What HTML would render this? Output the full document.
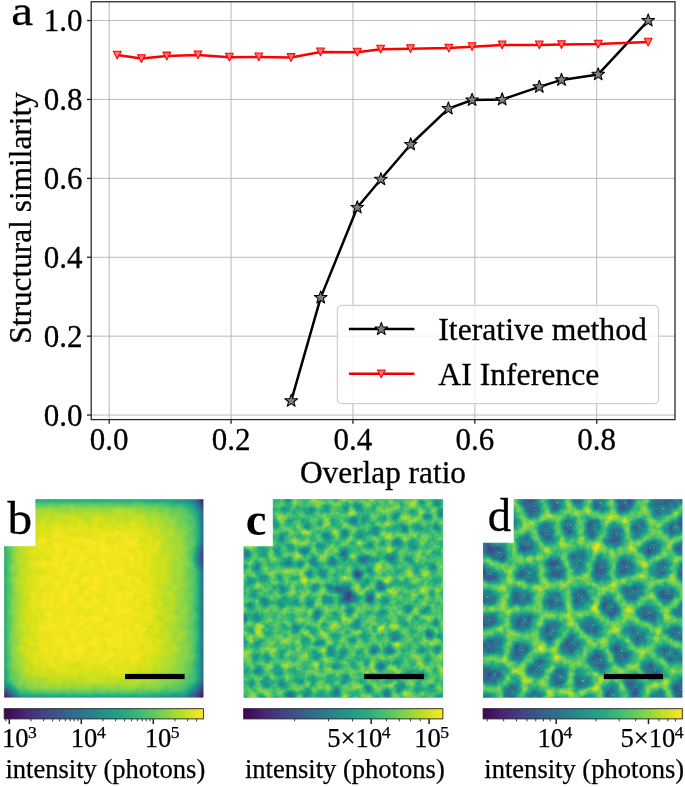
<!DOCTYPE html>
<html lang="en"><head><meta charset="utf-8"><title>Figure</title>
<style>
html,body{margin:0;padding:0;background:#fff;}
body{width:685px;height:787px;overflow:hidden;}
svg{display:block;font-family:"Liberation Serif","DejaVu Serif",serif;}
.t{font-size:31px;fill:#000;stroke:#000;stroke-width:0.3px;}
.lab{font-size:46.5px;fill:#000;stroke:#000;stroke-width:0.3px;}
.cb{font-size:26.6px;fill:#000;stroke:#000;stroke-width:0.25px;}
.sup{font-size:17.6px;}
.il{font-size:26.55px;fill:#000;stroke:#000;stroke-width:0.25px;}
</style></head><body>
<svg width="685" height="787" viewBox="0 0 685 787">
<defs>
<linearGradient id="vir" x1="0" x2="1" y1="0" y2="0">
<stop offset="0" stop-color="#440154"/><stop offset="0.1" stop-color="#482475"/><stop offset="0.2" stop-color="#414487"/><stop offset="0.3" stop-color="#355f8d"/><stop offset="0.4" stop-color="#2a788e"/><stop offset="0.5" stop-color="#21918c"/><stop offset="0.6" stop-color="#22a884"/><stop offset="0.7" stop-color="#44bf70"/><stop offset="0.8" stop-color="#7ad151"/><stop offset="0.9" stop-color="#bddf26"/><stop offset="1" stop-color="#fde725"/>
</linearGradient>
</defs>
<rect width="685" height="787" fill="#fff"/>

<g stroke="#b9b9b9" stroke-width="1.0" fill="none">
<line x1="109.20" y1="1.75" x2="109.20" y2="419.6"/>
<line x1="231.08" y1="1.75" x2="231.08" y2="419.6"/>
<line x1="352.96" y1="1.75" x2="352.96" y2="419.6"/>
<line x1="474.84" y1="1.75" x2="474.84" y2="419.6"/>
<line x1="596.72" y1="1.75" x2="596.72" y2="419.6"/>
<line x1="91.2" y1="415.05" x2="675.0" y2="415.05"/>
<line x1="91.2" y1="336.15" x2="675.0" y2="336.15"/>
<line x1="91.2" y1="257.25" x2="675.0" y2="257.25"/>
<line x1="91.2" y1="178.35" x2="675.0" y2="178.35"/>
<line x1="91.2" y1="99.45" x2="675.0" y2="99.45"/>
<line x1="91.2" y1="20.55" x2="675.0" y2="20.55"/>
</g>
<g stroke="#222" stroke-width="1.3" fill="none">
<line x1="109.20" y1="419.6" x2="109.20" y2="423.8"/>
<line x1="231.08" y1="419.6" x2="231.08" y2="423.8"/>
<line x1="352.96" y1="419.6" x2="352.96" y2="423.8"/>
<line x1="474.84" y1="419.6" x2="474.84" y2="423.8"/>
<line x1="596.72" y1="419.6" x2="596.72" y2="423.8"/>
<line x1="87.0" y1="415.05" x2="91.2" y2="415.05"/>
<line x1="87.0" y1="336.15" x2="91.2" y2="336.15"/>
<line x1="87.0" y1="257.25" x2="91.2" y2="257.25"/>
<line x1="87.0" y1="178.35" x2="91.2" y2="178.35"/>
<line x1="87.0" y1="99.45" x2="91.2" y2="99.45"/>
<line x1="87.0" y1="20.55" x2="91.2" y2="20.55"/>
</g>
<polyline fill="none" stroke="#000" stroke-width="2.5" stroke-linejoin="round" points="291.2,400.9 320.7,297.6 357.3,207.5 380.9,179.3 410.7,144.5 448.4,108.6 472.1,100 502.2,99.5 539.3,86.9 561.5,79.9 598.2,74.4 648.2,20.6"/>
<polyline fill="none" stroke="#f00" stroke-width="2.5" stroke-linejoin="round" points="117.2,55.10 141.4,58.60 166.8,56.00 198,54.90 229.3,57.20 258.8,56.90 291,57.50 320.5,51.90 357.3,52.20 380.6,49.20 410.5,48.70 448.8,48.10 472.1,46.70 502.2,44.90 539.3,44.90 561.5,44.60 598.2,44.10 648.2,42.10"/>
<g fill="#808080" stroke="#000" stroke-width="1.05" stroke-linejoin="round">
<polygon points="291.20,394.20 292.82,398.68 297.57,398.83 293.82,401.75 295.14,406.32 291.20,403.65 287.26,406.32 288.58,401.75 284.83,398.83 289.58,398.68"/>
<polygon points="320.70,290.90 322.32,295.38 327.07,295.53 323.32,298.45 324.64,303.02 320.70,300.35 316.76,303.02 318.08,298.45 314.33,295.53 319.08,295.38"/>
<polygon points="357.30,200.80 358.92,205.28 363.67,205.43 359.92,208.35 361.24,212.92 357.30,210.25 353.36,212.92 354.68,208.35 350.93,205.43 355.68,205.28"/>
<polygon points="380.90,172.60 382.52,177.08 387.27,177.23 383.52,180.15 384.84,184.72 380.90,182.05 376.96,184.72 378.28,180.15 374.53,177.23 379.28,177.08"/>
<polygon points="410.70,137.80 412.32,142.28 417.07,142.43 413.32,145.35 414.64,149.92 410.70,147.25 406.76,149.92 408.08,145.35 404.33,142.43 409.08,142.28"/>
<polygon points="448.40,101.90 450.02,106.38 454.77,106.53 451.02,109.45 452.34,114.02 448.40,111.35 444.46,114.02 445.78,109.45 442.03,106.53 446.78,106.38"/>
<polygon points="472.10,93.30 473.72,97.78 478.47,97.93 474.72,100.85 476.04,105.42 472.10,102.75 468.16,105.42 469.48,100.85 465.73,97.93 470.48,97.78"/>
<polygon points="502.20,92.80 503.82,97.28 508.57,97.43 504.82,100.35 506.14,104.92 502.20,102.25 498.26,104.92 499.58,100.35 495.83,97.43 500.58,97.28"/>
<polygon points="539.30,80.20 540.92,84.68 545.67,84.83 541.92,87.75 543.24,92.32 539.30,89.65 535.36,92.32 536.68,87.75 532.93,84.83 537.68,84.68"/>
<polygon points="561.50,73.20 563.12,77.68 567.87,77.83 564.12,80.75 565.44,85.32 561.50,82.65 557.56,85.32 558.88,80.75 555.13,77.83 559.88,77.68"/>
<polygon points="598.20,67.70 599.82,72.18 604.57,72.33 600.82,75.25 602.14,79.82 598.20,77.15 594.26,79.82 595.58,75.25 591.83,72.33 596.58,72.18"/>
<polygon points="648.20,13.90 649.82,18.38 654.57,18.53 650.82,21.45 652.14,26.02 648.20,23.35 644.26,26.02 645.58,21.45 641.83,18.53 646.58,18.38"/>
</g>
<g fill="#ff7272" stroke="#f00" stroke-width="1.05" stroke-linejoin="round">
<polygon points="113.30,51.20 121.10,51.20 117.20,59.00"/>
<polygon points="137.50,54.70 145.30,54.70 141.40,62.50"/>
<polygon points="162.90,52.10 170.70,52.10 166.80,59.90"/>
<polygon points="194.10,51.00 201.90,51.00 198.00,58.80"/>
<polygon points="225.40,53.30 233.20,53.30 229.30,61.10"/>
<polygon points="254.90,53.00 262.70,53.00 258.80,60.80"/>
<polygon points="287.10,53.60 294.90,53.60 291.00,61.40"/>
<polygon points="316.60,48.00 324.40,48.00 320.50,55.80"/>
<polygon points="353.40,48.30 361.20,48.30 357.30,56.10"/>
<polygon points="376.70,45.30 384.50,45.30 380.60,53.10"/>
<polygon points="406.60,44.80 414.40,44.80 410.50,52.60"/>
<polygon points="444.90,44.20 452.70,44.20 448.80,52.00"/>
<polygon points="468.20,42.80 476.00,42.80 472.10,50.60"/>
<polygon points="498.30,41.00 506.10,41.00 502.20,48.80"/>
<polygon points="535.40,41.00 543.20,41.00 539.30,48.80"/>
<polygon points="557.60,40.70 565.40,40.70 561.50,48.50"/>
<polygon points="594.30,40.20 602.10,40.20 598.20,48.00"/>
<polygon points="644.30,38.20 652.10,38.20 648.20,46.00"/>
</g>
<rect x="91.2" y="1.75" width="583.8" height="417.85" fill="none" stroke="#2a2a2a" stroke-width="1.3"/>
<rect x="337.4" y="305.3" width="321.2" height="98.3" rx="4.5" ry="4.5" fill="#fff" fill-opacity="0.8" stroke="#cfcfcf" stroke-width="1.2"/>
<line x1="348.9" y1="329.1" x2="414.4" y2="329.1" stroke="#000" stroke-width="2.5"/>
<polygon points="381.30,322.40 382.92,326.88 387.67,327.03 383.92,329.95 385.24,334.52 381.30,331.85 377.36,334.52 378.68,329.95 374.93,327.03 379.68,326.88" fill="#808080" stroke="#000" stroke-width="1.05" stroke-linejoin="round"/>
<line x1="348.9" y1="373.8" x2="414.4" y2="373.8" stroke="#ee0000" stroke-width="2.5"/>
<polygon points="377.40,369.90 385.20,369.90 381.30,377.70" fill="#ff7272" stroke="#f00" stroke-width="1.05" stroke-linejoin="round"/>
<text class="t" style="font-size:31.7px" x="438.3" y="340">Iterative method</text>
<text class="t" style="font-size:31.7px" x="438.3" y="384.5">AI Inference</text>
<text class="t" text-anchor="middle" x="109.20" y="450.4">0.0</text>
<text class="t" text-anchor="middle" x="231.08" y="450.4">0.2</text>
<text class="t" text-anchor="middle" x="352.96" y="450.4">0.4</text>
<text class="t" text-anchor="middle" x="474.84" y="450.4">0.6</text>
<text class="t" text-anchor="middle" x="596.72" y="450.4">0.8</text>
<text class="t" text-anchor="end" x="82.5" y="425.95">0.0</text>
<text class="t" text-anchor="end" x="82.5" y="347.05">0.2</text>
<text class="t" text-anchor="end" x="82.5" y="268.15">0.4</text>
<text class="t" text-anchor="end" x="82.5" y="189.25">0.6</text>
<text class="t" text-anchor="end" x="82.5" y="110.35">0.8</text>
<text class="t" text-anchor="end" x="82.5" y="31.45">1.0</text>
<text class="t" style="font-size:31.3px" text-anchor="middle" x="383" y="483.2">Overlap ratio</text>
<text class="t" style="font-size:31.35px" text-anchor="middle" transform="translate(30.7,217.9) rotate(-90)">Structural similarity</text>
<text class="lab" transform="translate(11.2,24.6) scale(1.06,0.915)">a</text>
<g id="pb">
<rect x="4.2" y="499.3" width="199.20" height="198.30" fill="#dfe318"/>
<clipPath id="clb"><rect x="4.2" y="499.3" width="199.2" height="198.30"/></clipPath>
<filter id="blb" filterUnits="userSpaceOnUse" x="-7.8" y="487.3" width="223.2" height="222.3" color-interpolation-filters="sRGB"><feGaussianBlur stdDeviation="1.5"/></filter>
<filter id="cmb" filterUnits="userSpaceOnUse" x="-7.8" y="487.3" width="223.2" height="222.3" color-interpolation-filters="sRGB">
<feTurbulence type="fractalNoise" baseFrequency="0.13" numOctaves="2" seed="5" result="n"/>
<feColorMatrix in="n" type="matrix" values="1 0 0 0 0 1 0 0 0 0 1 0 0 0 0 0 0 0 0 1" result="ng"/>
<feComposite in="SourceGraphic" in2="ng" operator="arithmetic" k1="0" k2="1" k3="0.085" k4="-0.0425" result="s"/>
<feComponentTransfer in="s"><feFuncR type="table" tableValues="0.267 0.277 0.282 0.283 0.279 0.271 0.259 0.245 0.230 0.214 0.199 0.186 0.173 0.161 0.149 0.138 0.128 0.121 0.121 0.132 0.158 0.197 0.246 0.304 0.369 0.440 0.516 0.596 0.678 0.762 0.846 0.926 0.993"/><feFuncG type="table" tableValues="0.005 0.050 0.095 0.136 0.175 0.214 0.252 0.288 0.322 0.356 0.388 0.419 0.449 0.479 0.508 0.537 0.567 0.596 0.626 0.655 0.684 0.712 0.739 0.765 0.789 0.811 0.831 0.849 0.864 0.876 0.887 0.897 0.906"/><feFuncB type="table" tableValues="0.329 0.376 0.417 0.453 0.483 0.507 0.525 0.537 0.546 0.551 0.555 0.557 0.558 0.558 0.557 0.555 0.551 0.544 0.533 0.520 0.502 0.479 0.452 0.420 0.383 0.341 0.294 0.243 0.190 0.137 0.100 0.104 0.144"/></feComponentTransfer>
</filter>
<linearGradient id="bL" gradientUnits="userSpaceOnUse" x1="4.2" y1="0" x2="59.2" y2="0"><stop offset="0.0" stop-color="#000" stop-opacity="0.4"/><stop offset="0.055" stop-color="#000" stop-opacity="0.29"/><stop offset="0.145" stop-color="#000" stop-opacity="0.18"/><stop offset="0.273" stop-color="#000" stop-opacity="0.1"/><stop offset="0.455" stop-color="#000" stop-opacity="0.045"/><stop offset="0.727" stop-color="#000" stop-opacity="0.01"/><stop offset="1.0" stop-color="#000" stop-opacity="0"/></linearGradient>
<linearGradient id="bR" gradientUnits="userSpaceOnUse" x1="203.39999999999998" y1="0" x2="133.39999999999998" y2="0"><stop offset="0.0" stop-color="#000" stop-opacity="0.7"/><stop offset="0.029" stop-color="#000" stop-opacity="0.55"/><stop offset="0.071" stop-color="#000" stop-opacity="0.36"/><stop offset="0.143" stop-color="#000" stop-opacity="0.24"/><stop offset="0.286" stop-color="#000" stop-opacity="0.15"/><stop offset="0.5" stop-color="#000" stop-opacity="0.085"/><stop offset="0.714" stop-color="#000" stop-opacity="0.04"/><stop offset="1.0" stop-color="#000" stop-opacity="0"/></linearGradient>
<linearGradient id="bT" gradientUnits="userSpaceOnUse" x1="0" y1="499.3" x2="0" y2="544.3"><stop offset="0.0" stop-color="#000" stop-opacity="0.43"/><stop offset="0.067" stop-color="#000" stop-opacity="0.29"/><stop offset="0.178" stop-color="#000" stop-opacity="0.16"/><stop offset="0.333" stop-color="#000" stop-opacity="0.085"/><stop offset="0.667" stop-color="#000" stop-opacity="0.025"/><stop offset="1.0" stop-color="#000" stop-opacity="0"/></linearGradient>
<linearGradient id="bB" gradientUnits="userSpaceOnUse" x1="0" y1="697.6" x2="0" y2="652.6"><stop offset="0.0" stop-color="#000" stop-opacity="0.48"/><stop offset="0.067" stop-color="#000" stop-opacity="0.31"/><stop offset="0.178" stop-color="#000" stop-opacity="0.17"/><stop offset="0.333" stop-color="#000" stop-opacity="0.09"/><stop offset="0.667" stop-color="#000" stop-opacity="0.03"/><stop offset="1.0" stop-color="#000" stop-opacity="0"/></linearGradient>
<radialGradient id="bc1" gradientUnits="userSpaceOnUse" cx="4.2" cy="697.6" r="16"><stop offset="0" stop-color="#000" stop-opacity="0.9"/><stop offset="0.4" stop-color="#000" stop-opacity="0.5"/><stop offset="1" stop-color="#000" stop-opacity="0"/></radialGradient>
<radialGradient id="bc2" gradientUnits="userSpaceOnUse" cx="203.39999999999998" cy="697.6" r="18"><stop offset="0" stop-color="#000" stop-opacity="0.9"/><stop offset="0.4" stop-color="#000" stop-opacity="0.5"/><stop offset="1" stop-color="#000" stop-opacity="0"/></radialGradient>
<radialGradient id="bc3" gradientUnits="userSpaceOnUse" cx="203.39999999999998" cy="499.3" r="14"><stop offset="0" stop-color="#000" stop-opacity="0.7"/><stop offset="0.4" stop-color="#000" stop-opacity="0.35"/><stop offset="1" stop-color="#000" stop-opacity="0"/></radialGradient>
<radialGradient id="bc4" gradientUnits="userSpaceOnUse" cx="4.2" cy="499.3" r="20"><stop offset="0" stop-color="#000" stop-opacity="0.3"/><stop offset="0.5" stop-color="#000" stop-opacity="0.1"/><stop offset="1" stop-color="#000" stop-opacity="0"/></radialGradient>
<radialGradient id="bc5" gradientUnits="userSpaceOnUse" cx="208.39999999999998" cy="557" r="19"><stop offset="0" stop-color="#000" stop-opacity="0.6"/><stop offset="0.5" stop-color="#000" stop-opacity="0.4"/><stop offset="0.75" stop-color="#000" stop-opacity="0.12"/><stop offset="1" stop-color="#000" stop-opacity="0"/></radialGradient>
<g clip-path="url(#clb)"><g filter="url(#cmb)"><g filter="url(#blb)">
<rect x="-9.8" y="485.3" width="227.2" height="226.3" fill="#fafafa"/>
<rect x="-9.8" y="485.3" width="227.2" height="226.3" fill="url(#bL)"/>
<rect x="-9.8" y="485.3" width="227.2" height="226.3" fill="url(#bR)"/>
<rect x="-9.8" y="485.3" width="227.2" height="226.3" fill="url(#bT)"/>
<rect x="-9.8" y="485.3" width="227.2" height="226.3" fill="url(#bB)"/>
<rect x="-9.8" y="485.3" width="227.2" height="226.3" fill="url(#bc1)"/>
<rect x="-9.8" y="485.3" width="227.2" height="226.3" fill="url(#bc2)"/>
<rect x="-9.8" y="485.3" width="227.2" height="226.3" fill="url(#bc3)"/>
<rect x="-9.8" y="485.3" width="227.2" height="226.3" fill="url(#bc4)"/>
<rect x="-9.8" y="485.3" width="227.2" height="226.3" fill="url(#bc5)"/>
</g></g></g>
<rect x="3.2" y="496.3" width="32.20" height="49.90" fill="#fff"/>
<rect x="125" y="673.9" width="59.60" height="5.2" fill="#000"/>
<text class="lab" transform="translate(7.60,533.6) scale(1.06,1)">b</text>
<rect x="4.2" y="708.7" width="199.20" height="10.2" fill="url(#vir)" stroke="#222" stroke-width="0.9"/>
<text class="il" x="5.40" y="777.9">intensity (photons)</text>
</g>
<g id="pc">
<rect x="243.7" y="499.3" width="199.20" height="198.30" fill="#4ec36b"/>
<clipPath id="clc"><rect x="243.7" y="499.3" width="199.2" height="198.30"/></clipPath>
<filter id="blc" filterUnits="userSpaceOnUse" x="231.7" y="487.3" width="223.2" height="222.3" color-interpolation-filters="sRGB"><feGaussianBlur stdDeviation="2.4"/></filter>
<filter id="cmc" filterUnits="userSpaceOnUse" x="231.7" y="487.3" width="223.2" height="222.3" color-interpolation-filters="sRGB">
<feTurbulence type="fractalNoise" baseFrequency="0.13" numOctaves="4" seed="11" result="n"/>
<feColorMatrix in="n" type="matrix" values="1 0 0 0 0 1 0 0 0 0 1 0 0 0 0 0 0 0 0 1" result="ng"/>
<feComposite in="SourceGraphic" in2="ng" operator="arithmetic" k1="0" k2="1" k3="0.38" k4="-0.1900" result="s"/>
<feComponentTransfer in="s"><feFuncR type="table" tableValues="0.267 0.277 0.282 0.283 0.279 0.271 0.259 0.245 0.230 0.214 0.199 0.186 0.173 0.161 0.149 0.138 0.128 0.121 0.121 0.132 0.158 0.197 0.246 0.304 0.369 0.440 0.516 0.596 0.678 0.762 0.846 0.926 0.993"/><feFuncG type="table" tableValues="0.005 0.050 0.095 0.136 0.175 0.214 0.252 0.288 0.322 0.356 0.388 0.419 0.449 0.479 0.508 0.537 0.567 0.596 0.626 0.655 0.684 0.712 0.739 0.765 0.789 0.811 0.831 0.849 0.864 0.876 0.887 0.897 0.906"/><feFuncB type="table" tableValues="0.329 0.376 0.417 0.453 0.483 0.507 0.525 0.537 0.546 0.551 0.555 0.557 0.558 0.558 0.557 0.555 0.551 0.544 0.533 0.520 0.502 0.479 0.452 0.420 0.383 0.341 0.294 0.243 0.190 0.137 0.100 0.104 0.144"/></feComponentTransfer>
</filter>
<g clip-path="url(#clc)"><g filter="url(#cmc)">
<g filter="url(#blc)"><rect x="229.7" y="485.3" width="227.2" height="226.3" fill="#c2c2c2"/>
<polygon fill="#7c7c7c" points="239.1,489.0 245.5,473.8 235.4,303.1 178.0,307.7 116.4,323.1 83.5,336.9 70.8,369.0 61.2,410.4 235.4,489.8"/>
<polygon fill="#848484" points="243.1,490.7 249.5,475.5 254.0,489.4 249.8,494.4"/>
<polygon fill="#a0a0a0" points="271.1,485.8 252.4,302.0 250.9,301.9 246.8,302.4 256.9,473.1 261.4,487.1 266.9,488.5"/>
<polygon fill="#7d7d7d" points="282.1,486.8 284.9,485.8 292.8,463.2 294.5,442.6 293.8,302.0 258.5,301.3 277.2,485.1"/>
<polygon fill="#808080" points="295.9,491.6 302.2,487.8 298.9,465.3 291.0,487.9"/>
<polygon fill="#868686" points="313.4,489.8 309.2,486.7 305.8,464.3 307.5,443.7 318.3,485.8"/>
<polygon fill="#676767" points="328.6,485.6 329.5,485.1 337.1,422.7 341.0,301.0 336.2,300.5 311.4,301.9 312.1,442.5 322.8,484.6"/>
<polygon fill="#808080" points="345.5,483.0 342.9,423.4 335.3,485.8 341.6,488.2"/>
<polygon fill="#898989" points="357.7,485.7 367.5,479.3 366.4,357.6 363.8,302.1 353.9,301.4 350.0,423.1 352.5,482.7"/>
<polygon fill="#969696" points="389.3,485.8 395.2,483.8 379.4,357.5 380.4,479.2 381.3,481.8"/>
<polygon fill="#606060" points="401.4,483.0 385.6,356.7 383.0,301.2 429.8,300.3 448.0,303.1 417.9,470.8 413.6,479.2 404.9,485.9"/>
<polygon fill="#707070" points="233.4,505.1 232.2,496.9 58.0,417.5 52.8,437.3 47.8,490.5 227.2,508.7"/>
<polygon fill="#606060" points="242.9,505.6 238.1,504.4 236.9,496.2 240.5,495.4 247.2,499.1 247.2,502.5"/>
<polygon fill="#979797" points="259.8,505.5 266.4,502.1 265.1,495.5 259.6,494.1 255.4,499.1 255.4,502.5"/>
<polygon fill="#8e8e8e" points="279.8,493.4 279.2,499.7 274.8,502.7 272.1,501.0 270.8,494.4 275.0,491.7"/>
<polygon fill="#5c5c5c" points="284.5,493.8 287.3,492.9 292.3,496.5 292.4,499.3 289.1,503.0 283.8,500.1"/>
<polygon fill="#a4a4a4" points="298.9,499.0 304.3,502.5 310.0,499.7 309.3,495.5 305.1,492.4 298.8,496.2"/>
<polygon fill="#a3a3a3" points="326.0,498.2 327.6,491.1 321.9,490.1 317.0,494.1 317.8,498.4 319.5,499.7"/>
<polygon fill="#8b8b8b" points="335.3,503.0 330.6,499.3 332.3,492.2 333.1,491.7 339.4,494.1 340.6,497.7"/>
<polygon fill="#888888" points="351.4,497.0 355.9,495.3 355.4,489.6 350.3,486.6 346.4,491.7 347.6,495.4"/>
<polygon fill="#656565" points="369.2,494.2 365.4,496.7 360.4,495.0 360.0,489.2 369.8,482.8 370.7,485.4"/>
<polygon fill="#5a5a5a" points="381.5,498.4 387.1,496.8 386.7,490.8 378.8,486.8 377.3,495.6"/>
<polygon fill="#828282" points="391.3,496.5 394.6,498.5 400.4,492.8 400.3,491.4 396.8,488.5 390.9,490.6"/>
<polygon fill="#5e5e5e" points="408.7,492.1 408.5,490.7 417.3,483.9 418.6,494.1 413.5,497.1"/>
<polygon fill="#686868" points="427.9,495.0 431.4,492.6 426.1,474.9 421.8,483.4 423.1,493.5"/>
<polygon fill="#6c6c6c" points="442.1,492.1 445.8,488.9 474.6,306.8 461.8,305.6 431.6,473.2 437.0,490.9"/>
<polygon fill="#5c5c5c" points="465.4,496.9 641.1,502.6 642.0,493.4 637.5,432.1 622.6,370.9 608.9,337.6 574.8,324.0 513.2,309.9 482.9,308.1 454.1,490.2"/>
<polygon fill="#7d7d7d" points="241.7,517.6 235.9,520.2 230.4,514.1 236.6,510.5 241.4,511.7"/>
<polygon fill="#7b7b7b" points="252.0,520.9 247.4,517.3 247.1,511.4 251.4,508.3 255.7,511.3 256.9,516.8"/>
<polygon fill="#9a9a9a" points="263.2,515.5 262.1,510.0 268.7,506.6 271.4,508.3 272.9,514.1 266.9,516.7"/>
<polygon fill="#818181" points="279.1,512.5 277.6,506.6 281.9,503.6 287.2,506.5 287.1,510.4 282.0,513.9"/>
<polygon fill="#8a8a8a" points="296.4,502.9 301.8,506.4 300.0,513.5 293.0,510.5 293.1,506.6"/>
<polygon fill="#7f7f7f" points="312.2,515.5 315.4,513.2 314.2,506.2 312.5,504.9 306.8,507.6 305.0,514.7 305.1,514.9"/>
<polygon fill="#8c8c8c" points="332.0,509.8 332.0,507.2 327.3,503.5 320.8,505.1 322.0,512.0 326.6,513.9"/>
<polygon fill="#7c7c7c" points="345.6,513.8 339.5,509.7 339.5,507.1 344.8,501.8 348.6,503.5 349.3,511.3"/>
<polygon fill="#6f6f6f" points="354.4,510.9 353.7,503.0 358.2,501.3 363.1,503.1 362.8,508.7 358.1,511.5"/>
<polygon fill="#a6a6a6" points="378.8,509.2 377.8,503.8 373.6,500.9 369.8,503.5 369.5,509.1 374.1,512.9"/>
<polygon fill="#a5a5a5" points="392.2,506.7 391.7,503.2 388.4,501.3 382.7,502.9 383.7,508.3 388.2,509.9"/>
<polygon fill="#9a9a9a" points="404.2,508.5 408.8,503.9 408.9,501.6 404.0,496.5 398.1,502.2 398.7,505.6"/>
<polygon fill="#8f8f8f" points="422.0,508.2 425.9,506.0 426.2,500.3 421.4,498.8 416.3,501.8 416.2,504.1"/>
<polygon fill="#717171" points="441.3,505.2 440.4,499.4 435.3,498.3 431.8,500.7 431.5,506.3 434.8,508.4"/>
<polygon fill="#6b6b6b" points="448.3,504.1 447.4,498.3 451.2,495.1 462.5,501.8 451.5,507.2"/>
<polygon fill="#6f6f6f" points="231.9,524.0 226.3,517.9 46.8,499.6 45.8,507.8 46.5,527.7 213.8,536.8 222.8,535.3 231.2,529.2"/>
<polygon fill="#5f5f5f" points="248.3,525.7 243.7,522.2 238.0,524.7 237.3,529.9 242.9,531.4 248.3,526.3"/>
<polygon fill="#949494" points="256.3,526.0 261.1,521.9 264.9,523.1 266.0,529.3 261.1,533.2 256.3,526.5"/>
<polygon fill="#787878" points="269.4,522.3 275.4,519.7 278.3,521.2 279.8,527.6 275.5,530.0 270.5,528.5"/>
<polygon fill="#9a9a9a" points="290.8,527.9 287.2,525.8 285.7,519.4 290.8,515.9 297.8,518.8 297.9,518.9 296.2,525.3"/>
<polygon fill="#777777" points="312.2,528.5 311.6,521.4 304.6,520.7 302.9,527.1 306.9,529.9"/>
<polygon fill="#a3a3a3" points="325.3,526.3 319.4,529.8 316.6,528.1 316.1,521.0 319.3,518.7 323.9,520.5"/>
<polygon fill="#9a9a9a" points="341.8,522.2 335.4,526.8 331.8,524.8 330.5,519.0 335.9,514.9 342.0,519.1"/>
<polygon fill="#595959" points="349.4,522.8 354.1,527.4 359.5,525.2 357.0,517.8 353.3,517.1 349.6,519.7"/>
<polygon fill="#696969" points="361.0,516.4 365.7,513.6 370.3,517.5 370.5,520.0 365.3,524.3 363.5,523.9"/>
<polygon fill="#9f9f9f" points="377.6,519.4 377.4,516.9 382.0,513.2 386.5,514.7 386.9,520.0 382.6,523.0"/>
<polygon fill="#7d7d7d" points="401.3,514.1 395.8,511.2 391.8,514.4 392.2,519.7 396.5,521.3 401.8,517.8"/>
<polygon fill="#a4a4a4" points="408.7,513.0 413.3,508.3 419.1,512.4 418.5,517.3 412.4,519.1 409.3,516.7"/>
<polygon fill="#787878" points="432.0,513.0 428.7,511.0 424.8,513.1 424.1,518.1 427.7,521.1 432.7,518.3"/>
<polygon fill="#5f5f5f" points="443.3,509.3 436.8,512.4 437.5,517.7 442.9,519.7 446.3,516.2 446.4,512.3"/>
<polygon fill="#898989" points="454.1,512.5 465.1,507.1 640.8,512.8 640.0,526.7 466.3,522.4 454.0,516.3"/>
<polygon fill="#959595" points="241.4,537.0 243.9,543.2 238.3,546.0 227.4,541.6 235.8,535.5"/>
<polygon fill="#6e6e6e" points="251.7,529.8 246.2,535.0 248.7,541.2 252.4,542.3 256.3,539.4 256.5,536.5"/>
<polygon fill="#606060" points="264.2,537.1 263.9,540.0 269.2,542.4 272.8,540.5 274.0,534.7 269.1,533.2"/>
<polygon fill="#737373" points="286.9,538.7 282.1,543.9 277.3,541.5 278.6,535.7 282.9,533.3 286.6,535.4"/>
<polygon fill="#a3a3a3" points="303.5,534.9 299.4,532.2 294.1,534.7 294.4,538.0 298.7,542.9 303.8,541.0"/>
<polygon fill="#939393" points="316.3,535.0 313.5,533.3 308.2,534.7 308.5,540.8 312.3,542.9 316.5,538.2"/>
<polygon fill="#626262" points="331.8,533.3 328.2,531.2 322.4,534.7 322.5,537.9 328.3,541.5 333.0,538.4"/>
<polygon fill="#6c6c6c" points="345.2,527.0 338.9,531.6 340.1,536.8 345.0,539.5 349.0,536.6 349.9,531.6"/>
<polygon fill="#616161" points="356.3,532.8 355.4,537.7 360.6,539.9 365.6,536.0 363.5,531.1 361.7,530.6"/>
<polygon fill="#5e5e5e" points="374.1,524.3 379.2,527.9 379.3,532.9 374.8,535.4 371.0,533.6 368.9,528.7"/>
<polygon fill="#969696" points="386.0,527.8 390.2,524.9 394.6,526.5 395.3,533.0 390.2,535.1 386.0,532.8"/>
<polygon fill="#676767" points="404.9,522.5 408.1,524.9 408.3,532.9 405.1,534.5 400.3,532.4 399.6,526.0"/>
<polygon fill="#848484" points="414.3,532.6 414.0,524.7 420.1,522.9 423.7,525.9 423.7,531.6 420.6,534.5"/>
<polygon fill="#7b7b7b" points="440.9,525.1 441.2,531.3 437.9,532.9 430.5,531.5 430.5,525.9 435.4,523.1"/>
<polygon fill="#686868" points="451.6,521.2 463.9,527.3 451.2,532.5 448.5,531.0 448.1,524.8"/>
<polygon fill="#919191" points="236.6,558.0 235.9,552.1 225.0,547.8 215.9,549.3 232.7,561.2"/>
<polygon fill="#636363" points="251.1,556.4 250.3,549.7 246.6,548.6 241.1,551.4 241.9,557.3 247.5,559.3"/>
<polygon fill="#8a8a8a" points="258.1,555.5 257.3,548.9 261.2,546.0 266.5,548.4 267.6,554.0 262.0,557.3"/>
<polygon fill="#626262" points="277.8,555.5 272.9,553.0 271.8,547.4 275.4,545.5 280.1,547.8 280.9,552.2"/>
<polygon fill="#797979" points="294.4,546.7 293.4,551.9 286.1,551.4 285.3,546.9 290.1,541.8"/>
<polygon fill="#6a6a6a" points="305.6,546.0 300.6,547.9 299.5,553.1 299.8,553.6 306.6,555.0 310.7,552.5 309.5,548.1"/>
<polygon fill="#6e6e6e" points="320.2,541.6 326.0,545.2 324.5,551.2 322.2,553.0 317.3,550.7 316.1,546.3"/>
<polygon fill="#a4a4a4" points="341.3,546.2 341.8,550.9 338.8,553.8 330.2,552.6 331.7,546.6 336.4,543.5"/>
<polygon fill="#979797" points="353.4,542.5 358.6,544.7 360.4,550.2 353.8,552.2 349.9,550.2 349.4,545.5"/>
<polygon fill="#717171" points="368.3,539.3 363.2,543.3 365.0,548.8 368.1,550.4 371.8,548.3 372.0,541.1"/>
<polygon fill="#9d9d9d" points="378.2,541.4 377.9,548.5 384.3,550.7 387.2,548.5 386.8,541.1 382.7,538.8"/>
<polygon fill="#696969" points="392.5,540.8 393.0,548.1 399.4,549.3 401.3,547.9 402.5,540.7 397.6,538.6"/>
<polygon fill="#777777" points="408.9,541.7 407.7,548.9 414.6,551.5 419.2,546.8 418.4,541.9 412.1,540.0"/>
<polygon fill="#9b9b9b" points="427.2,545.5 430.1,547.2 435.7,545.1 436.8,538.9 429.4,537.6 426.3,540.6"/>
<polygon fill="#8a8a8a" points="440.0,545.8 443.7,549.2 448.7,545.0 447.1,539.7 444.4,538.2 441.1,539.7"/>
<polygon fill="#616161" points="466.0,532.6 639.7,536.9 639.6,545.0 476.9,554.5 473.2,553.9 454.9,543.1 453.4,537.8"/>
<polygon fill="#a5a5a5" points="229.7,568.2 229.7,565.5 212.9,553.6 45.6,544.5 44.3,585.8 44.9,590.5 105.1,588.0 221.6,575.2"/>
<polygon fill="#6a6a6a" points="245.5,570.3 242.1,572.2 236.2,568.3 236.2,565.5 240.1,562.3 245.8,564.3"/>
<polygon fill="#6d6d6d" points="251.5,570.5 251.8,564.5 255.3,561.6 259.2,563.4 260.9,568.5 255.5,572.4"/>
<polygon fill="#949494" points="266.2,566.8 270.4,568.7 275.4,565.7 274.9,560.9 270.1,558.4 264.5,561.6"/>
<polygon fill="#727272" points="293.3,557.8 292.0,565.3 287.2,567.4 283.1,564.9 282.6,560.1 285.7,556.9 293.0,557.4"/>
<polygon fill="#707070" points="305.3,565.6 301.9,568.5 297.4,566.3 298.7,558.8 305.5,560.2"/>
<polygon fill="#5f5f5f" points="319.2,563.3 318.9,560.2 314.0,557.9 309.9,560.4 309.7,565.8 314.8,567.6"/>
<polygon fill="#606060" points="332.4,567.5 337.9,563.7 338.1,558.7 329.5,557.5 327.2,559.3 327.5,562.4"/>
<polygon fill="#868686" points="343.7,563.9 343.8,558.9 346.8,556.0 350.6,558.1 351.8,563.0 347.9,566.7"/>
<polygon fill="#6c6c6c" points="365.0,556.6 364.7,561.0 360.7,563.7 356.4,562.0 355.2,557.0 361.8,555.0"/>
<polygon fill="#878787" points="382.3,562.5 377.0,566.6 371.7,561.4 372.0,557.1 375.7,554.9 382.1,557.1"/>
<polygon fill="#767676" points="393.8,564.9 389.2,562.1 388.9,556.8 391.9,554.6 398.3,555.7 398.5,561.2"/>
<polygon fill="#7c7c7c" points="404.0,561.1 403.9,555.5 405.8,554.2 412.6,556.7 413.1,560.5 408.6,564.1"/>
<polygon fill="#a3a3a3" points="423.6,551.3 426.6,553.0 428.7,558.3 423.4,562.3 419.5,559.7 419.0,555.9"/>
<polygon fill="#7e7e7e" points="437.2,548.9 440.9,552.3 440.5,556.3 438.5,558.1 433.7,556.3 431.5,551.0"/>
<polygon fill="#858585" points="446.7,552.8 451.7,548.6 470.0,559.4 464.7,559.9 446.4,556.9"/>
<polygon fill="#9c9c9c" points="233.4,572.6 239.3,576.4 237.8,581.8 235.0,583.5 225.3,579.5"/>
<polygon fill="#676767" points="248.8,576.2 245.4,578.1 244.0,583.5 249.2,586.1 254.7,583.9 252.7,578.1"/>
<polygon fill="#656565" points="258.2,576.2 260.2,582.0 262.1,583.0 267.6,578.8 267.9,574.2 263.7,572.4"/>
<polygon fill="#9f9f9f" points="273.6,579.2 274.0,574.7 279.0,571.7 283.2,574.2 283.6,580.1 278.2,582.5"/>
<polygon fill="#989898" points="294.7,571.7 299.2,573.9 300.5,578.4 293.6,582.5 290.4,579.6 290.0,573.7"/>
<polygon fill="#6c6c6c" points="313.4,576.4 308.8,578.1 306.3,576.7 305.0,572.2 308.4,569.3 313.6,571.1"/>
<polygon fill="#686868" points="327.7,572.0 322.8,566.9 318.4,571.3 318.3,576.6 323.2,579.0 327.8,576.4"/>
<polygon fill="#929292" points="335.3,571.8 340.9,568.0 345.2,570.8 346.2,576.4 338.8,578.1 335.4,576.2"/>
<polygon fill="#a1a1a1" points="350.8,569.8 351.9,575.4 354.5,576.9 358.6,573.8 359.0,567.9 354.7,566.1"/>
<polygon fill="#686868" points="372.7,574.4 371.6,575.4 363.4,574.1 363.8,568.2 367.8,565.4 373.1,570.6"/>
<polygon fill="#a2a2a2" points="390.7,570.0 386.1,567.2 380.8,571.4 380.4,575.1 387.3,577.8 391.5,573.8"/>
<polygon fill="#9d9d9d" points="396.8,568.7 401.5,565.0 406.1,568.0 406.0,572.3 402.0,574.2 397.6,572.4"/>
<polygon fill="#878787" points="411.8,568.1 416.3,564.6 420.2,567.2 421.2,572.3 417.1,575.7 411.7,572.4"/>
<polygon fill="#797979" points="431.5,561.9 426.2,566.0 427.2,571.1 431.6,572.0 436.4,569.5 436.4,563.8"/>
<polygon fill="#616161" points="443.6,563.7 445.5,561.9 463.9,564.9 446.5,571.3 443.6,569.3"/>
<polygon fill="#5c5c5c" points="232.3,595.5 232.5,589.7 222.8,585.7 106.3,598.5 223.1,601.2"/>
<polygon fill="#a3a3a3" points="243.3,598.8 246.6,596.8 246.8,590.9 241.6,588.2 238.8,589.9 238.6,595.7"/>
<polygon fill="#6b6b6b" points="258.7,589.8 256.7,588.8 251.3,591.1 251.0,597.0 255.4,598.3 259.9,593.0"/>
<polygon fill="#8f8f8f" points="265.4,587.2 270.9,583.0 275.4,586.3 274.4,592.0 272.2,593.8 266.6,590.5"/>
<polygon fill="#6d6d6d" points="279.3,592.9 286.8,593.6 289.2,591.3 288.8,587.6 285.7,584.7 280.3,587.2"/>
<polygon fill="#989898" points="305.9,591.6 305.6,584.1 303.1,582.7 296.1,586.8 296.5,590.5 302.3,593.3"/>
<polygon fill="#878787" points="315.5,582.3 310.9,583.9 311.2,591.4 316.9,593.5 319.6,590.5 320.4,584.7"/>
<polygon fill="#707070" points="331.6,583.0 334.9,584.9 335.6,591.3 333.7,593.5 326.1,591.5 327.0,585.6"/>
<polygon fill="#676767" points="340.2,584.4 347.6,582.7 350.2,584.2 351.2,588.2 347.4,592.5 340.9,590.8"/>
<polygon fill="#909090" points="362.6,579.2 358.5,582.3 359.4,586.3 363.3,588.4 369.7,586.4 370.8,580.4"/>
<polygon fill="#5f5f5f" points="386.6,589.5 385.2,583.3 378.3,580.6 377.1,581.6 376.0,587.6 379.3,591.5"/>
<polygon fill="#6b6b6b" points="399.9,585.8 399.8,579.6 395.4,577.9 391.2,581.9 392.7,588.1 393.6,588.7"/>
<polygon fill="#848484" points="410.5,588.7 413.9,586.3 414.0,581.0 408.5,577.7 404.6,579.6 404.6,585.8"/>
<polygon fill="#9a9a9a" points="421.6,586.5 421.7,581.1 425.8,577.7 430.1,578.6 431.2,585.2 425.1,588.1"/>
<polygon fill="#888888" points="439.5,575.4 442.4,577.4 443.6,582.8 438.7,586.1 435.7,584.4 434.6,577.9"/>
<polygon fill="#6f6f6f" points="449.5,581.5 453.6,583.7 474.6,569.7 470.9,569.2 465.6,569.7 448.3,576.1"/>
<polygon fill="#9f9f9f" points="240.0,607.6 235.3,611.4 226.2,606.2 235.4,600.5 240.1,603.6"/>
<polygon fill="#696969" points="246.2,607.7 250.5,610.2 255.6,607.5 253.9,603.1 249.6,601.8 246.3,603.7"/>
<polygon fill="#5b5b5b" points="263.3,596.0 258.9,601.2 260.5,605.7 263.9,607.3 269.0,604.2 268.9,599.3"/>
<polygon fill="#6e6e6e" points="286.0,605.9 286.4,598.1 278.8,597.4 276.7,599.2 276.8,604.1 282.3,607.8"/>
<polygon fill="#7b7b7b" points="295.9,607.3 291.0,606.2 291.3,598.3 293.8,596.0 299.6,598.9 298.9,604.2"/>
<polygon fill="#5e5e5e" points="315.5,605.0 314.5,600.0 308.8,597.9 305.2,599.6 304.6,604.9 311.1,607.3"/>
<polygon fill="#676767" points="326.8,606.2 332.8,602.9 332.6,597.5 325.0,595.4 322.3,598.4 323.3,603.4"/>
<polygon fill="#757575" points="341.9,604.1 338.1,602.7 337.9,597.3 339.8,595.1 346.3,596.8 346.3,600.9"/>
<polygon fill="#858585" points="352.2,600.8 352.1,596.7 355.9,592.4 359.8,594.6 361.2,602.6 357.8,604.2"/>
<polygon fill="#636363" points="373.0,601.9 374.6,595.5 371.3,591.7 364.9,593.7 366.3,601.7 371.2,603.2"/>
<polygon fill="#757575" points="390.5,600.6 387.4,605.3 379.2,603.5 380.8,597.1 388.1,595.2 389.0,595.8"/>
<polygon fill="#9d9d9d" points="408.1,593.7 402.2,590.8 395.9,593.7 397.4,598.5 402.1,599.9 407.2,597.5"/>
<polygon fill="#a4a4a4" points="415.2,595.3 418.6,593.0 422.1,594.6 425.2,600.8 418.1,604.7 414.3,599.1"/>
<polygon fill="#8c8c8c" points="427.0,592.1 433.1,589.1 436.2,590.8 436.7,597.5 433.7,599.6 430.2,598.3"/>
<polygon fill="#8e8e8e" points="442.2,597.1 441.6,590.3 446.5,587.1 450.7,589.3 451.0,596.2 448.4,597.8"/>
<polygon fill="#868686" points="457.1,589.0 478.1,575.0 640.8,565.5 643.1,595.6 641.5,611.4 586.2,611.4 493.7,605.9 457.5,595.8"/>
<polygon fill="#646464" points="231.9,617.3 232.5,620.3 223.9,629.0 46.5,626.0 45.8,611.9 106.0,609.4 222.8,612.1"/>
<polygon fill="#5c5c5c" points="243.7,612.1 248.0,614.5 248.3,620.6 243.9,622.0 239.5,618.9 238.9,615.9"/>
<polygon fill="#5b5b5b" points="252.9,620.3 258.0,622.6 260.8,620.2 261.0,613.2 257.7,611.7 252.6,614.3"/>
<polygon fill="#9f9f9f" points="278.2,614.0 272.6,610.4 267.5,613.4 267.3,620.4 274.2,622.0 277.7,618.9"/>
<polygon fill="#8f8f8f" points="294.3,614.0 289.4,612.9 285.7,614.7 285.2,619.6 289.5,622.4 296.6,619.5"/>
<polygon fill="#a3a3a3" points="309.8,610.9 303.3,608.5 300.2,611.6 302.5,617.0 305.5,619.2 307.0,618.4"/>
<polygon fill="#5b5b5b" points="321.9,614.9 317.3,620.3 311.0,619.9 313.7,612.3 318.1,610.0 321.7,612.8"/>
<polygon fill="#8a8a8a" points="330.2,614.0 335.5,619.2 341.6,616.7 339.7,610.0 335.9,608.6 330.0,611.9"/>
<polygon fill="#7e7e7e" points="348.8,615.9 353.2,613.7 355.1,608.6 349.5,605.2 345.0,608.4 347.0,615.1"/>
<polygon fill="#919191" points="369.0,610.6 364.1,609.1 360.7,610.7 358.8,615.8 365.1,620.3 369.4,617.0"/>
<polygon fill="#727272" points="378.0,608.8 386.2,610.6 387.2,613.8 379.7,618.2 376.6,616.5 376.2,610.1"/>
<polygon fill="#a6a6a6" points="400.6,605.4 401.6,612.7 396.2,614.3 393.6,611.9 392.7,608.8 395.8,604.0"/>
<polygon fill="#5f5f5f" points="409.5,602.4 413.3,608.0 413.0,610.3 409.5,613.5 405.5,612.1 404.5,604.8"/>
<polygon fill="#838383" points="427.4,615.4 420.2,611.3 420.5,609.0 427.6,605.2 431.1,606.5 431.3,612.4"/>
<polygon fill="#929292" points="442.3,614.5 447.8,611.2 447.6,604.9 441.3,604.1 438.3,606.3 438.4,612.2"/>
<polygon fill="#9e9e9e" points="453.2,611.0 460.0,616.4 491.7,613.1 455.5,603.0 452.9,604.7"/>
<polygon fill="#929292" points="240.5,626.9 239.6,632.4 233.0,635.1 227.5,632.5 236.1,623.8"/>
<polygon fill="#8f8f8f" points="245.8,627.7 245.0,633.2 249.2,636.3 255.2,633.0 255.3,628.6 250.2,626.3"/>
<polygon fill="#969696" points="267.6,638.1 263.0,633.2 263.1,628.8 265.9,626.4 272.9,628.0 273.7,634.7"/>
<polygon fill="#9f9f9f" points="286.5,626.9 287.9,633.8 283.8,635.7 279.7,633.9 278.8,627.2 282.3,624.1"/>
<polygon fill="#747474" points="298.1,623.1 291.0,626.0 292.4,632.9 296.4,633.7 300.6,629.7 301.1,625.3"/>
<polygon fill="#8e8e8e" points="310.6,625.3 309.0,626.1 308.6,630.6 314.5,634.3 320.3,633.0 316.9,625.8"/>
<polygon fill="#9e9e9e" points="325.9,618.3 331.2,623.5 330.4,627.4 325.8,631.3 324.7,630.9 321.4,623.7"/>
<polygon fill="#9c9c9c" points="337.0,628.7 343.7,632.5 347.3,629.3 345.8,623.1 344.0,622.3 337.8,624.8"/>
<polygon fill="#797979" points="351.7,621.7 356.1,619.5 362.4,624.1 361.8,627.0 357.6,629.6 353.2,627.9"/>
<polygon fill="#969696" points="376.6,623.8 378.6,627.7 372.7,632.1 368.6,628.4 369.2,625.5 373.5,622.1"/>
<polygon fill="#9b9b9b" points="381.5,621.2 383.6,625.1 387.1,627.0 390.9,624.8 391.5,619.2 389.0,616.8"/>
<polygon fill="#858585" points="403.7,629.0 397.3,625.5 397.9,619.9 403.3,618.2 407.3,619.7 407.9,624.4"/>
<polygon fill="#898989" points="414.9,623.5 414.3,618.8 417.8,615.6 425.0,619.6 424.4,623.6 421.3,626.0"/>
<polygon fill="#767676" points="436.5,628.0 430.8,624.7 431.4,620.7 435.3,617.7 439.2,620.0 441.1,626.1"/>
<polygon fill="#868686" points="446.5,624.4 449.5,625.7 456.9,620.4 450.1,615.1 444.5,618.3"/>
<polygon fill="#888888" points="225.1,656.2 163.1,657.9 46.3,654.9 46.3,637.5 223.7,640.4 229.2,643.1 231.8,648.8"/>
<polygon fill="#5f5f5f" points="244.0,648.5 245.4,647.4 246.0,640.7 241.8,637.6 235.1,640.4 237.7,646.2"/>
<polygon fill="#8a8a8a" points="262.1,646.2 258.6,648.5 251.3,647.9 251.9,641.2 257.9,638.0 262.5,642.9"/>
<polygon fill="#a5a5a5" points="281.1,647.3 281.0,642.2 276.9,640.4 270.8,643.8 270.4,647.2 274.4,650.7"/>
<polygon fill="#9d9d9d" points="294.9,641.1 290.9,640.2 286.7,642.1 286.8,647.3 289.6,650.3 297.0,647.8"/>
<polygon fill="#919191" points="305.7,635.1 301.5,639.0 303.6,645.8 306.0,647.7 309.6,645.6 311.6,638.8"/>
<polygon fill="#777777" points="321.6,638.7 322.7,639.1 323.9,642.6 320.9,648.2 313.8,646.9 315.8,640.0"/>
<polygon fill="#919191" points="334.8,632.5 341.5,636.3 341.0,641.3 337.5,642.5 331.5,639.9 330.2,636.5"/>
<polygon fill="#868686" points="351.1,633.7 355.5,635.4 356.1,643.0 352.1,645.4 346.9,641.9 347.4,636.8"/>
<polygon fill="#7b7b7b" points="365.0,632.4 360.8,634.9 361.5,642.6 365.1,643.2 369.9,639.9 369.1,636.0"/>
<polygon fill="#999999" points="374.7,634.9 375.5,638.7 380.6,640.6 383.6,638.7 384.1,632.4 380.6,630.5"/>
<polygon fill="#606060" points="401.1,637.3 396.7,642.1 390.0,639.3 390.5,633.0 394.4,630.7 400.8,634.3"/>
<polygon fill="#939393" points="409.0,636.4 415.4,639.7 419.3,638.0 419.2,631.3 412.8,628.7 408.6,633.4"/>
<polygon fill="#5c5c5c" points="425.4,631.2 428.4,628.8 434.2,632.1 432.3,638.7 429.7,639.9 425.5,637.9"/>
<polygon fill="#878787" points="438.7,633.3 436.9,639.9 442.6,641.6 447.1,637.0 446.3,632.8 443.3,631.4"/>
<polygon fill="#7e7e7e" points="454.4,635.7 462.2,640.7 585.2,628.3 492.7,622.8 461.0,626.1 453.6,631.5"/>
<polygon fill="#6b6b6b" points="236.2,663.7 228.8,659.5 235.5,652.2 241.7,654.5 241.3,659.8"/>
<polygon fill="#8f8f8f" points="249.0,660.3 249.4,655.1 250.8,654.0 258.1,654.5 258.2,661.6 253.3,663.2"/>
<polygon fill="#7f7f7f" points="270.0,655.7 266.0,652.2 262.5,654.5 262.6,661.5 266.9,664.2 271.2,660.6"/>
<polygon fill="#888888" points="282.9,650.9 276.3,654.3 277.4,659.1 283.3,661.0 284.6,660.1 285.7,653.9"/>
<polygon fill="#a0a0a0" points="298.5,652.3 291.0,654.8 290.0,661.0 297.0,662.0 301.0,656.3 300.8,654.2"/>
<polygon fill="#6d6d6d" points="309.3,653.6 309.4,655.7 315.6,660.8 321.2,656.7 320.0,652.9 312.9,651.5"/>
<polygon fill="#5a5a5a" points="329.2,645.4 326.2,651.0 327.3,654.8 330.7,656.5 333.8,655.3 335.2,647.9"/>
<polygon fill="#707070" points="339.5,648.7 343.1,647.6 348.3,651.1 348.0,653.8 343.8,658.2 338.1,656.1"/>
<polygon fill="#8d8d8d" points="366.5,656.3 363.8,650.3 360.2,649.6 356.2,652.0 355.9,654.7 360.5,659.0"/>
<polygon fill="#696969" points="374.0,655.8 378.0,654.2 378.4,646.7 373.3,644.8 368.4,648.1 371.2,654.2"/>
<polygon fill="#666666" points="394.9,652.0 388.7,656.9 384.2,654.5 384.6,647.0 387.6,645.1 394.3,647.9"/>
<polygon fill="#9f9f9f" points="406.1,642.0 401.7,646.8 402.3,650.8 407.2,653.9 411.1,652.9 412.6,645.3"/>
<polygon fill="#8c8c8c" points="418.4,646.4 416.9,654.0 420.3,656.1 426.7,651.8 426.5,646.7 422.3,644.7"/>
<polygon fill="#7b7b7b" points="432.7,646.4 435.3,645.2 441.0,646.9 442.4,652.1 437.4,655.6 432.9,651.6"/>
<polygon fill="#9d9d9d" points="446.6,645.5 448.0,650.7 452.2,652.2 458.9,645.9 451.1,640.9"/>
<polygon fill="#727272" points="232.8,669.7 225.4,665.5 163.3,667.2 230.9,676.4 233.1,674.5"/>
<polygon fill="#8c8c8c" points="240.5,669.3 245.6,665.3 249.9,668.2 250.3,674.1 245.1,676.3 240.8,674.1"/>
<polygon fill="#686868" points="255.2,673.7 258.6,675.5 263.9,671.8 264.1,668.9 259.7,666.2 254.7,667.8"/>
<polygon fill="#7a7a7a" points="281.3,667.4 281.2,673.5 275.4,676.3 271.0,672.2 271.2,669.2 275.4,665.6"/>
<polygon fill="#979797" points="287.7,667.5 287.6,673.6 291.6,677.0 297.6,671.7 296.1,667.7 289.1,666.6"/>
<polygon fill="#9f9f9f" points="312.1,669.3 306.4,671.0 303.5,669.5 302.0,665.5 306.0,659.8 312.2,665.0"/>
<polygon fill="#9d9d9d" points="324.3,661.0 318.8,665.1 318.7,669.4 322.0,672.3 327.8,668.9 327.6,662.6"/>
<polygon fill="#777777" points="333.0,662.5 333.2,668.8 337.2,670.8 342.4,667.8 341.8,663.4 336.1,661.3"/>
<polygon fill="#868686" points="357.4,668.0 353.5,670.3 348.9,667.0 348.4,662.6 352.6,658.3 357.1,662.6"/>
<polygon fill="#717171" points="365.6,668.6 369.8,666.1 370.9,661.2 368.0,659.6 362.0,662.4 362.2,667.8"/>
<polygon fill="#646464" points="376.7,662.5 380.7,660.9 385.2,663.3 386.2,667.5 381.1,672.2 375.6,667.4"/>
<polygon fill="#7f7f7f" points="398.0,668.3 402.3,665.0 403.6,659.8 398.6,656.7 392.4,661.6 393.4,665.8"/>
<polygon fill="#999999" points="413.1,660.1 409.2,661.2 407.9,666.4 413.3,670.1 418.2,667.0 416.5,662.2"/>
<polygon fill="#9a9a9a" points="422.9,659.9 424.6,664.8 427.4,666.3 433.4,662.8 433.8,659.6 429.3,655.7"/>
<polygon fill="#909090" points="440.7,660.4 445.7,657.0 450.0,658.5 451.7,665.2 445.0,667.5 440.3,663.5"/>
<polygon fill="#a2a2a2" points="456.5,656.8 463.2,650.5 586.2,638.0 641.5,638.0 641.9,665.6 462.8,666.1 458.3,663.4"/>
<polygon fill="#6e6e6e" points="162.7,671.7 46.0,668.7 44.5,693.8 44.8,696.4 216.5,691.8 229.1,686.8 230.3,680.9"/>
<polygon fill="#666666" points="238.1,690.6 234.4,687.8 235.5,681.8 237.7,680.0 242.0,682.2 243.2,688.7"/>
<polygon fill="#7c7c7c" points="248.4,687.7 247.1,681.2 252.4,679.0 255.7,680.8 256.6,687.5 252.7,690.1"/>
<polygon fill="#6e6e6e" points="261.7,680.0 267.0,676.4 271.4,680.5 270.9,685.4 266.7,687.6 262.5,686.7"/>
<polygon fill="#6a6a6a" points="287.6,681.8 283.6,678.4 277.8,681.2 277.3,686.1 282.5,689.2 288.2,685.0"/>
<polygon fill="#797979" points="294.7,680.5 300.7,675.2 303.6,676.6 303.6,683.6 298.6,685.5 295.3,683.6"/>
<polygon fill="#898989" points="313.8,674.9 308.0,676.6 308.0,683.5 313.6,686.1 317.6,683.4 317.1,677.9"/>
<polygon fill="#7f7f7f" points="335.0,682.1 328.7,684.1 325.4,682.7 324.9,677.2 330.7,673.7 334.7,675.7"/>
<polygon fill="#717171" points="349.1,682.0 349.6,675.7 345.0,672.5 339.9,675.5 340.2,681.8 345.2,684.5"/>
<polygon fill="#999999" points="364.3,674.8 366.4,681.0 359.8,684.0 356.5,682.6 356.9,676.3 360.8,674.0"/>
<polygon fill="#a4a4a4" points="368.5,673.3 370.7,679.6 376.0,681.9 377.5,680.7 378.1,675.6 372.6,670.9"/>
<polygon fill="#7c7c7c" points="394.8,674.3 390.2,671.8 385.1,676.5 384.5,681.6 390.5,682.8 395.6,678.1"/>
<polygon fill="#5f5f5f" points="401.5,672.8 405.8,669.5 411.2,673.2 409.8,678.6 407.9,679.9 402.4,676.6"/>
<polygon fill="#5c5c5c" points="414.7,679.8 422.8,681.2 425.0,678.9 423.8,672.9 421.0,671.4 416.1,674.5"/>
<polygon fill="#9c9c9c" points="437.6,678.9 431.7,677.5 430.5,671.6 436.5,668.1 441.2,672.0 440.1,676.6"/>
<polygon fill="#5c5c5c" points="453.1,681.0 458.3,673.8 453.8,671.1 447.0,673.4 445.9,678.0"/>
<polygon fill="#8f8f8f" points="234.1,701.1 232.8,701.9 218.6,697.1 231.2,692.1 235.0,694.9"/>
<polygon fill="#858585" points="239.1,701.8 245.7,703.4 249.1,699.7 249.4,696.0 245.1,693.6 240.0,695.5"/>
<polygon fill="#717171" points="257.1,696.6 261.0,694.0 265.2,694.9 266.8,701.9 262.7,704.5 256.8,700.2"/>
<polygon fill="#969696" points="279.3,694.7 279.8,699.5 276.0,702.5 271.5,700.8 269.9,693.8 274.1,691.6"/>
<polygon fill="#5b5b5b" points="291.8,689.9 295.1,691.7 296.1,698.1 291.8,701.2 286.6,698.9 286.1,694.1"/>
<polygon fill="#646464" points="305.6,688.9 311.2,691.4 310.2,696.8 306.2,698.8 301.6,697.2 300.6,690.8"/>
<polygon fill="#7c7c7c" points="325.5,691.5 327.3,697.6 322.3,702.4 317.3,698.1 318.3,692.8 322.2,690.0"/>
<polygon fill="#5b5b5b" points="341.9,690.7 341.3,696.1 338.5,698.5 332.4,696.2 330.6,690.0 336.9,688.0"/>
<polygon fill="#999999" points="359.9,695.8 354.5,700.0 349.2,697.0 349.8,691.6 353.7,689.1 357.0,690.5"/>
<polygon fill="#6b6b6b" points="368.0,694.6 372.8,690.8 373.5,687.4 368.2,685.1 361.6,688.0 364.5,693.3"/>
<polygon fill="#646464" points="389.1,689.4 392.3,695.3 384.9,697.8 380.8,692.7 381.6,689.3 383.1,688.1"/>
<polygon fill="#5d5d5d" points="399.2,681.9 404.8,685.2 404.4,690.6 397.9,693.0 397.2,692.6 394.0,686.7"/>
<polygon fill="#898989" points="413.9,684.5 421.9,685.9 421.7,690.4 414.9,694.0 411.6,691.1 412.0,685.8"/>
<polygon fill="#7b7b7b" points="437.3,690.1 436.1,685.2 430.2,683.8 428.0,686.1 427.8,690.6 431.5,694.2"/>
<polygon fill="#898989" points="447.8,691.4 451.8,689.6 451.6,684.5 444.5,681.4 442.0,683.7 443.2,688.6"/>
<polygon fill="#8b8b8b" points="457.8,689.4 469.5,694.4 643.0,694.0 641.9,676.5 462.9,677.0 457.7,684.3"/>
<polygon fill="#979797" points="231.0,707.3 204.8,890.5 173.5,888.6 112.0,874.4 77.5,860.5 63.8,827.0 49.2,765.7 45.1,707.0 216.8,702.5"/>
<polygon fill="#a3a3a3" points="237.8,707.3 236.5,708.1 210.3,891.3 240.5,893.8 257.5,892.3 250.8,751.0 244.4,708.8"/>
<polygon fill="#8e8e8e" points="250.6,707.9 257.0,750.1 259.9,708.4 254.0,704.2"/>
<polygon fill="#686868" points="265.5,708.8 269.5,706.2 274.1,707.8 277.9,891.5 269.3,891.8 262.6,750.4"/>
<polygon fill="#7e7e7e" points="296.5,758.6 298.1,782.4 287.4,891.3 284.0,891.3 280.2,707.7 283.9,704.7 289.1,707.1"/>
<polygon fill="#676767" points="299.6,703.1 295.3,706.2 302.7,757.7 304.2,704.6"/>
<polygon fill="#5a5a5a" points="309.2,704.8 307.7,757.8 309.3,781.7 321.5,725.3 318.3,707.1 313.2,702.7"/>
<polygon fill="#7d7d7d" points="336.7,703.3 335.2,712.6 328.8,724.0 325.6,705.8 330.5,701.0"/>
<polygon fill="#909090" points="353.0,709.2 342.0,713.7 343.5,704.4 346.3,702.0 351.6,705.0"/>
<polygon fill="#676767" points="365.9,700.2 366.9,713.4 358.4,707.3 356.9,703.2 362.4,698.9"/>
<polygon fill="#6e6e6e" points="372.0,699.7 373.1,712.9 378.8,722.5 380.9,701.0 376.8,695.9"/>
<polygon fill="#747474" points="393.5,699.0 394.3,699.4 394.8,711.2 385.8,727.9 384.1,723.0 386.2,701.5"/>
<polygon fill="#8f8f8f" points="410.0,699.6 406.7,696.7 400.3,699.2 400.8,710.9 410.9,704.5"/>
<polygon fill="#818181" points="422.5,705.7 418.1,703.2 417.2,698.3 424.0,694.6 427.7,698.2 427.9,702.4"/>
<polygon fill="#888888" points="434.3,702.2 434.2,697.9 440.0,693.9 444.5,696.7 443.1,702.8 440.0,704.7"/>
<polygon fill="#939393" points="450.9,698.1 454.9,696.3 466.6,701.3 455.6,707.3 449.5,704.2"/>
<polygon fill="#777777" points="368.8,728.4 363.1,718.8 354.5,712.8 343.5,717.3 337.1,728.6 324.9,785.1 314.2,893.9 346.7,897.2 373.1,895.3 370.6,733.3"/>
<polygon fill="#969696" points="418.7,712.4 414.3,709.9 404.2,716.2 395.2,733.0 397.8,894.9 428.7,895.9 428.4,822.2 427.4,798.0"/>
<polygon fill="#9f9f9f" points="426.2,711.6 431.5,708.3 437.2,710.9 434.9,797.2"/>
<polygon fill="#606060" points="441.6,797.4 442.6,821.6 453.2,712.2 447.0,709.1 443.9,711.1"/>
<polygon fill="#a1a1a1" points="458.5,712.7 448.0,822.1 448.2,895.8 452.4,896.3 513.9,892.7 575.4,878.6 611.3,864.2 625.3,829.3 639.4,768.0 643.0,706.7 643.0,706.3 469.6,706.7"/>
<circle cx="295.5" cy="495.0" r="2.2" fill="#ffffff"/>
<circle cx="314.2" cy="500.9" r="2.6" fill="#ffffff"/>
<circle cx="344.6" cy="497.9" r="2.9" fill="#ffffff"/>
<circle cx="412.6" cy="500.8" r="2.2" fill="#ffffff"/>
<circle cx="244.6" cy="519.0" r="2.7" fill="#ffffff"/>
<circle cx="252.3" cy="524.9" r="2.7" fill="#ffffff"/>
<circle cx="260.5" cy="518.1" r="2.1" fill="#ffffff"/>
<circle cx="266.7" cy="520.1" r="1.8" fill="#ffffff"/>
<circle cx="326.8" cy="517.8" r="1.9" fill="#ffffff"/>
<circle cx="352.0" cy="513.7" r="2.6" fill="#ffffff"/>
<circle cx="395.7" cy="507.6" r="2.1" fill="#ffffff"/>
<circle cx="412.5" cy="504.7" r="2.8" fill="#ffffff"/>
<circle cx="434.2" cy="511.1" r="2.3" fill="#ffffff"/>
<circle cx="268.5" cy="530.5" r="2.9" fill="#ffffff"/>
<circle cx="305.8" cy="532.8" r="2.4" fill="#ffffff"/>
<circle cx="335.0" cy="530.8" r="2.3" fill="#ffffff"/>
<circle cx="353.4" cy="530.9" r="2.2" fill="#ffffff"/>
<circle cx="389.6" cy="521.7" r="1.9" fill="#ffffff"/>
<circle cx="405.7" cy="518.6" r="2.7" fill="#ffffff"/>
<circle cx="421.0" cy="519.6" r="1.9" fill="#ffffff"/>
<circle cx="411.0" cy="522.5" r="2.6" fill="#ffffff"/>
<circle cx="247.4" cy="544.8" r="2.6" fill="#ffffff"/>
<circle cx="253.5" cy="546.6" r="2.3" fill="#ffffff"/>
<circle cx="259.9" cy="541.8" r="1.9" fill="#ffffff"/>
<circle cx="306.2" cy="542.9" r="1.9" fill="#ffffff"/>
<circle cx="360.5" cy="542.7" r="2.6" fill="#ffffff"/>
<circle cx="375.2" cy="539.1" r="2.0" fill="#ffffff"/>
<circle cx="389.5" cy="538.7" r="3.0" fill="#ffffff"/>
<circle cx="406.1" cy="538.6" r="1.9" fill="#ffffff"/>
<circle cx="421.9" cy="539.0" r="1.7" fill="#ffffff"/>
<circle cx="254.8" cy="557.7" r="2.2" fill="#ffffff"/>
<circle cx="270.6" cy="555.2" r="1.9" fill="#ffffff"/>
<circle cx="296.0" cy="554.8" r="2.3" fill="#ffffff"/>
<circle cx="326.7" cy="554.6" r="1.7" fill="#ffffff"/>
<circle cx="322.8" cy="557.7" r="1.7" fill="#ffffff"/>
<circle cx="352.4" cy="555.3" r="1.9" fill="#ffffff"/>
<circle cx="368.6" cy="554.6" r="2.8" fill="#ffffff"/>
<circle cx="390.3" cy="551.0" r="1.7" fill="#ffffff"/>
<circle cx="242.8" cy="575.7" r="2.6" fill="#ffffff"/>
<circle cx="255.0" cy="575.7" r="2.2" fill="#ffffff"/>
<circle cx="294.3" cy="568.1" r="1.8" fill="#ffffff"/>
<circle cx="307.4" cy="567.0" r="2.8" fill="#ffffff"/>
<circle cx="385.8" cy="563.6" r="2.9" fill="#ffffff"/>
<circle cx="258.2" cy="585.3" r="2.1" fill="#ffffff"/>
<circle cx="270.5" cy="579.8" r="2.1" fill="#ffffff"/>
<circle cx="303.9" cy="579.3" r="2.9" fill="#ffffff"/>
<circle cx="387.9" cy="581.2" r="2.5" fill="#ffffff"/>
<circle cx="408.8" cy="574.3" r="2.2" fill="#ffffff"/>
<circle cx="402.2" cy="577.4" r="1.9" fill="#ffffff"/>
<circle cx="417.9" cy="579.7" r="2.0" fill="#ffffff"/>
<circle cx="272.8" cy="597.9" r="2.4" fill="#ffffff"/>
<circle cx="293.0" cy="592.2" r="2.9" fill="#ffffff"/>
<circle cx="308.6" cy="594.1" r="2.3" fill="#ffffff"/>
<circle cx="302.7" cy="596.9" r="2.3" fill="#ffffff"/>
<circle cx="322.6" cy="592.6" r="2.9" fill="#ffffff"/>
<circle cx="361.9" cy="591.7" r="2.5" fill="#ffffff"/>
<circle cx="390.3" cy="591.6" r="2.6" fill="#ffffff"/>
<circle cx="378.1" cy="594.8" r="1.6" fill="#ffffff"/>
<circle cx="402.3" cy="587.7" r="1.7" fill="#ffffff"/>
<circle cx="391.8" cy="592.6" r="2.7" fill="#ffffff"/>
<circle cx="423.5" cy="591.3" r="3.0" fill="#ffffff"/>
<circle cx="438.8" cy="589.2" r="2.9" fill="#ffffff"/>
<circle cx="264.3" cy="611.1" r="2.3" fill="#ffffff"/>
<circle cx="312.4" cy="609.8" r="2.5" fill="#ffffff"/>
<circle cx="335.5" cy="605.1" r="1.7" fill="#ffffff"/>
<circle cx="349.3" cy="602.1" r="2.2" fill="#ffffff"/>
<circle cx="375.4" cy="605.4" r="2.4" fill="#ffffff"/>
<circle cx="417.0" cy="608.1" r="1.8" fill="#ffffff"/>
<circle cx="259.2" cy="626.8" r="2.6" fill="#ffffff"/>
<circle cx="300.3" cy="620.1" r="2.0" fill="#ffffff"/>
<circle cx="318.4" cy="623.2" r="1.7" fill="#ffffff"/>
<circle cx="334.8" cy="622.8" r="2.2" fill="#ffffff"/>
<circle cx="348.2" cy="619.9" r="2.4" fill="#ffffff"/>
<circle cx="355.5" cy="616.2" r="1.7" fill="#ffffff"/>
<circle cx="394.9" cy="617.8" r="2.1" fill="#ffffff"/>
<circle cx="428.5" cy="618.8" r="1.8" fill="#ffffff"/>
<circle cx="249.1" cy="639.6" r="2.2" fill="#ffffff"/>
<circle cx="259.1" cy="634.1" r="2.7" fill="#ffffff"/>
<circle cx="325.8" cy="635.8" r="2.8" fill="#ffffff"/>
<circle cx="344.6" cy="635.5" r="1.7" fill="#ffffff"/>
<circle cx="381.7" cy="627.6" r="2.7" fill="#ffffff"/>
<circle cx="371.8" cy="634.9" r="1.9" fill="#ffffff"/>
<circle cx="393.9" cy="627.0" r="2.0" fill="#ffffff"/>
<circle cx="427.3" cy="625.4" r="1.8" fill="#ffffff"/>
<circle cx="245.7" cy="652.6" r="2.6" fill="#ffffff"/>
<circle cx="301.0" cy="649.0" r="2.0" fill="#ffffff"/>
<circle cx="322.8" cy="651.0" r="2.1" fill="#ffffff"/>
<circle cx="365.0" cy="646.9" r="2.4" fill="#ffffff"/>
<circle cx="397.8" cy="645.9" r="2.7" fill="#ffffff"/>
<circle cx="422.5" cy="640.6" r="1.6" fill="#ffffff"/>
<circle cx="267.7" cy="667.8" r="2.4" fill="#ffffff"/>
<circle cx="284.6" cy="664.9" r="1.7" fill="#ffffff"/>
<circle cx="305.2" cy="655.7" r="2.5" fill="#ffffff"/>
<circle cx="315.5" cy="664.2" r="2.6" fill="#ffffff"/>
<circle cx="330.3" cy="660.1" r="1.9" fill="#ffffff"/>
<circle cx="330.5" cy="670.5" r="2.6" fill="#ffffff"/>
<circle cx="359.9" cy="670.6" r="1.9" fill="#ffffff"/>
<circle cx="365.6" cy="671.8" r="2.9" fill="#ffffff"/>
<circle cx="372.5" cy="667.7" r="2.0" fill="#ffffff"/>
<circle cx="390.1" cy="667.9" r="2.5" fill="#ffffff"/>
<circle cx="397.8" cy="672.0" r="1.7" fill="#ffffff"/>
<circle cx="426.7" cy="670.2" r="1.8" fill="#ffffff"/>
<circle cx="436.7" cy="664.4" r="1.9" fill="#ffffff"/>
<circle cx="444.5" cy="671.0" r="2.6" fill="#ffffff"/>
<circle cx="259.9" cy="690.0" r="1.9" fill="#ffffff"/>
<circle cx="253.4" cy="694.4" r="1.8" fill="#ffffff"/>
<circle cx="266.9" cy="691.4" r="2.4" fill="#ffffff"/>
<circle cx="305.8" cy="685.8" r="2.8" fill="#ffffff"/>
<circle cx="352.6" cy="684.8" r="1.7" fill="#ffffff"/>
<circle cx="390.6" cy="686.3" r="3.0" fill="#ffffff"/>
<circle cx="411.7" cy="681.6" r="1.6" fill="#ffffff"/>
<circle cx="252.9" cy="700.4" r="1.8" fill="#ffffff"/>
<circle cx="299.2" cy="699.7" r="2.8" fill="#ffffff"/>
<circle cx="345.1" cy="697.9" r="2.3" fill="#ffffff"/>
<circle cx="340.4" cy="701.9" r="2.7" fill="#ffffff"/>
<circle cx="362.9" cy="695.9" r="2.7" fill="#ffffff"/>
<circle cx="396.0" cy="696.2" r="2.0" fill="#ffffff"/>
<circle cx="407.8" cy="692.8" r="2.3" fill="#ffffff"/>
<circle cx="430.9" cy="697.4" r="2.7" fill="#ffffff"/>
<circle cx="348.2" cy="596.9" r="6" fill="#1f1f1f"/><circle cx="338.7" cy="589.6" r="4" fill="#333333"/><circle cx="357.7" cy="575" r="4.5" fill="#2e2e2e"/><circle cx="365" cy="559" r="4.5" fill="#333333"/><circle cx="344.5" cy="553.1" r="4" fill="#404040"/><circle cx="370" cy="598.4" r="4.5" fill="#333333"/><circle cx="389" cy="557.5" r="4" fill="#404040"/><circle cx="346.4" cy="578" r="3" fill="#ffffff"/><circle cx="377.4" cy="567" r="3" fill="#ffffff"/>
</g>
</g></g>
<rect x="242.7" y="496.3" width="30.10" height="49.90" fill="#fff"/>
<rect x="364.2" y="673.9" width="59.80" height="5.2" fill="#000"/>
<text class="lab" style="font-weight:bold;stroke:none" transform="translate(245.70,534.7) scale(1.0,1)">c</text>
<rect x="243.7" y="708.7" width="199.20" height="10.2" fill="url(#vir)" stroke="#222" stroke-width="0.9"/>
<text class="il" x="244.90" y="777.9">intensity (photons)</text>
</g>
<g id="pd">
<rect x="483.1" y="499.3" width="199.20" height="198.30" fill="#3fbc73"/>
<clipPath id="cld"><rect x="483.1" y="499.3" width="199.2" height="198.30"/></clipPath>
<filter id="bld" filterUnits="userSpaceOnUse" x="471.1" y="487.3" width="223.2" height="222.3" color-interpolation-filters="sRGB"><feGaussianBlur stdDeviation="2.8"/></filter>
<filter id="cmd" filterUnits="userSpaceOnUse" x="471.1" y="487.3" width="223.2" height="222.3" color-interpolation-filters="sRGB">
<feTurbulence type="fractalNoise" baseFrequency="0.15" numOctaves="3" seed="4" result="n"/>
<feColorMatrix in="n" type="matrix" values="1 0 0 0 0 1 0 0 0 0 1 0 0 0 0 0 0 0 0 1" result="ng"/>
<feComposite in="SourceGraphic" in2="ng" operator="arithmetic" k1="0" k2="1" k3="0.32" k4="-0.1600" result="s"/>
<feComponentTransfer in="s"><feFuncR type="table" tableValues="0.267 0.277 0.282 0.283 0.279 0.271 0.259 0.245 0.230 0.214 0.199 0.186 0.173 0.161 0.149 0.138 0.128 0.121 0.121 0.132 0.158 0.197 0.246 0.304 0.369 0.440 0.516 0.596 0.678 0.762 0.846 0.926 0.993"/><feFuncG type="table" tableValues="0.005 0.050 0.095 0.136 0.175 0.214 0.252 0.288 0.322 0.356 0.388 0.419 0.449 0.479 0.508 0.537 0.567 0.596 0.626 0.655 0.684 0.712 0.739 0.765 0.789 0.811 0.831 0.849 0.864 0.876 0.887 0.897 0.906"/><feFuncB type="table" tableValues="0.329 0.376 0.417 0.453 0.483 0.507 0.525 0.537 0.546 0.551 0.555 0.557 0.558 0.558 0.557 0.555 0.551 0.544 0.533 0.520 0.502 0.479 0.452 0.420 0.383 0.341 0.294 0.243 0.190 0.137 0.100 0.104 0.144"/></feComponentTransfer>
</filter>
<g clip-path="url(#cld)"><g filter="url(#cmd)">
<g filter="url(#bld)"><rect x="469.1" y="485.3" width="227.2" height="226.3" fill="#e6e6e6"/>
<polygon fill="#9e9e9e" stroke="#dedede" stroke-width="3.6" stroke-linejoin="round" points="547.6,515.8 512.9,284.0 494.7,195.1 480.2,195.2 377.7,212.7 370.4,215.1 527.4,524.6 528.9,524.8"/>
<polygon fill="#4a4a4a" points="540.2,512.3 521.1,384.8 511.1,335.9 503.1,335.9 446.8,345.6 442.8,346.9 529.1,517.1 529.9,517.2"/>
<polygon fill="#a1a1a1" stroke="#dedede" stroke-width="3.6" stroke-linejoin="round" points="556.3,518.6 570.8,509.7 512.9,284.0 547.6,515.8"/>
<polygon fill="#4b4b4b" points="554.6,512.4 562.6,507.5 530.8,383.3 549.8,510.9"/>
<polygon fill="#9a9a9a" stroke="#dedede" stroke-width="3.6" stroke-linejoin="round" points="563.6,546.3 556.3,518.6 547.6,515.8 528.9,524.8 546.8,551.2 562.8,547.2"/>
<polygon fill="#505050" points="554.5,540.4 550.5,525.2 545.7,523.7 535.4,528.6 545.3,543.1 554.1,540.9"/>
<polygon fill="#acacac" stroke="#dedede" stroke-width="3.6" stroke-linejoin="round" points="563.6,546.3 581.6,541.7 582.5,513.7 570.8,509.7 556.3,518.6"/>
<polygon fill="#585858" points="564.9,537.7 574.8,535.2 575.2,519.7 568.8,517.6 560.8,522.5"/>
<polygon fill="#a9a9a9" stroke="#dedede" stroke-width="3.6" stroke-linejoin="round" points="516.8,559.3 540.5,558.8 546.8,551.2 528.9,524.8 527.4,524.6 510.7,538.4"/>
<polygon fill="#4c4c4c" points="520.2,553.5 533.2,553.1 536.7,549.0 526.8,534.5 526.0,534.3 516.8,541.9"/>
<polygon fill="#a4a4a4" stroke="#dedede" stroke-width="3.6" stroke-linejoin="round" points="509.4,570.1 313.3,485.7 510.7,538.4 516.8,559.3"/>
<polygon fill="#4d4d4d" points="503.0,563.2 395.1,516.8 503.7,545.8 507.1,557.3"/>
<polygon fill="#9d9d9d" stroke="#dedede" stroke-width="3.6" stroke-linejoin="round" points="562.8,547.2 572.6,579.7 567.1,584.4 545.4,584.4 540.5,558.8 546.8,551.2"/>
<polygon fill="#4a4a4a" points="558.2,557.5 563.6,575.4 560.6,578.0 548.6,578.0 545.9,563.9 549.4,559.7"/>
<polygon fill="#9d9d9d" stroke="#dedede" stroke-width="3.6" stroke-linejoin="round" points="563.6,546.3 581.6,541.7 596.0,547.5 586.0,579.1 572.6,579.7 562.8,547.2"/>
<polygon fill="#5a5a5a" points="569.0,553.9 578.9,551.4 586.8,554.6 581.3,572.0 573.9,572.3 568.6,554.4"/>
<polygon fill="#aaaaaa" stroke="#dedede" stroke-width="3.6" stroke-linejoin="round" points="509.4,570.1 509.6,581.1 540.8,589.1 545.4,584.4 540.5,558.8 516.8,559.3"/>
<polygon fill="#585858" points="516.4,572.5 516.6,578.5 533.7,582.9 536.2,580.3 533.5,566.2 520.5,566.6"/>
<polygon fill="#a9a9a9" stroke="#dedede" stroke-width="3.6" stroke-linejoin="round" points="509.4,570.1 509.6,581.1 504.9,588.0 178.3,543.2 180.3,496.3 190.9,445.3 313.3,485.7"/>
<polygon fill="#4b4b4b" points="498.9,572.8 499.0,578.9 496.4,582.7 316.8,558.0 317.9,532.3 323.7,504.2 391.0,526.4"/>
<polygon fill="#9f9f9f" stroke="#dedede" stroke-width="3.6" stroke-linejoin="round" points="504.9,607.4 504.9,588.0 509.6,581.1 540.8,589.1 538.8,607.9 506.7,610.0"/>
<polygon fill="#545454" points="511.3,603.5 511.3,592.8 513.9,589.1 531.0,593.5 529.9,603.8 512.2,604.9"/>
<polygon fill="#a8a8a8" stroke="#dedede" stroke-width="3.6" stroke-linejoin="round" points="571.2,617.7 542.7,614.1 538.8,607.9 540.8,589.1 545.4,584.4 567.1,584.4 571.2,617.5"/>
<polygon fill="#595959" points="562.8,610.7 547.2,608.8 545.0,605.4 546.1,595.0 548.6,592.4 560.6,592.4 562.9,610.7"/>
<polygon fill="#ababab" stroke="#dedede" stroke-width="3.6" stroke-linejoin="round" points="504.9,607.4 176.5,628.8 173.9,598.5 178.3,543.2 504.9,588.0"/>
<polygon fill="#494949" points="495.0,603.5 314.4,615.3 313.0,598.6 315.4,568.2 495.0,592.8"/>
<polygon fill="#a5a5a5" stroke="#dedede" stroke-width="3.6" stroke-linejoin="round" points="594.1,608.5 600.3,589.1 586.0,579.1 572.6,579.7 567.1,584.4 571.2,617.5"/>
<polygon fill="#555555" points="586.5,604.3 589.9,593.6 582.1,588.2 574.7,588.5 571.6,591.0 573.9,609.3"/>
<polygon fill="#a3a3a3" stroke="#dedede" stroke-width="3.6" stroke-linejoin="round" points="598.5,547.0 596.0,547.5 581.6,541.7 582.5,513.7 586.5,511.8 609.6,518.0"/>
<polygon fill="#4b4b4b" points="594.6,538.4 593.2,538.7 585.3,535.5 585.8,520.1 588.0,519.0 600.7,522.4"/>
<polygon fill="#a3a3a3" stroke="#dedede" stroke-width="3.6" stroke-linejoin="round" points="598.5,547.0 609.6,518.0 612.2,516.7 624.9,520.1 632.1,547.7 613.3,553.4"/>
<polygon fill="#494949" points="604.6,542.2 610.7,526.3 612.1,525.5 619.1,527.4 623.1,542.6 612.7,545.7"/>
<polygon fill="#acacac" stroke="#dedede" stroke-width="3.6" stroke-linejoin="round" points="632.1,547.7 632.9,547.9 657.9,530.3 657.9,526.5 643.2,509.1 624.9,520.1"/>
<polygon fill="#595959" points="633.8,539.8 634.2,539.9 648.0,530.2 647.9,528.1 639.9,518.6 629.8,524.6"/>
<polygon fill="#a4a4a4" stroke="#dedede" stroke-width="3.6" stroke-linejoin="round" points="612.2,516.7 612.6,424.8 644.3,193.6 685.2,194.2 691.5,195.3 643.2,509.1 624.9,520.1"/>
<polygon fill="#4e4e4e" points="615.9,511.4 616.1,460.8 633.6,333.6 656.1,334.0 659.6,334.6 633.0,507.2 622.9,513.3"/>
<polygon fill="#acacac" stroke="#dedede" stroke-width="3.6" stroke-linejoin="round" points="609.6,518.0 586.5,511.8 612.6,424.8 612.2,516.7"/>
<polygon fill="#535353" points="603.5,512.0 590.8,508.6 605.1,460.8 604.9,511.3"/>
<polygon fill="#ababab" stroke="#dedede" stroke-width="3.6" stroke-linejoin="round" points="657.9,526.5 953.4,317.9 946.7,292.1 930.4,253.4 890.2,235.5 787.7,206.7 691.5,195.3 643.2,509.1"/>
<polygon fill="#595959" points="658.3,519.4 820.8,404.7 817.1,390.5 808.2,369.2 786.1,359.4 729.7,343.5 676.8,337.3 650.2,509.8"/>
<polygon fill="#a3a3a3" stroke="#dedede" stroke-width="3.6" stroke-linejoin="round" points="668.8,542.3 979.4,419.9 976.0,394.2 953.4,317.9 657.9,526.5 657.9,530.3"/>
<polygon fill="#505050" points="670.2,536.5 841.0,469.2 839.2,455.1 826.8,413.1 664.2,527.8 664.3,529.9"/>
<polygon fill="#a5a5a5" stroke="#dedede" stroke-width="3.6" stroke-linejoin="round" points="632.9,547.9 657.9,530.3 668.8,542.3 668.8,552.2 645.5,565.8"/>
<polygon fill="#505050" points="640.4,548.8 654.2,539.1 660.2,545.6 660.2,551.1 647.3,558.6"/>
<polygon fill="#9c9c9c" stroke="#dedede" stroke-width="3.6" stroke-linejoin="round" points="598.5,547.0 596.0,547.5 586.0,579.1 600.3,589.1 612.8,586.0 614.3,584.1 613.3,553.4"/>
<polygon fill="#4e4e4e" points="598.1,557.4 596.7,557.7 591.2,575.1 599.0,580.5 605.9,578.9 606.7,577.8 606.2,560.9"/>
<polygon fill="#aaaaaa" stroke="#dedede" stroke-width="3.6" stroke-linejoin="round" points="613.3,553.4 614.3,584.1 645.5,575.2 645.5,565.8 632.9,547.9 632.1,547.7"/>
<polygon fill="#484848" points="617.2,560.5 617.8,577.4 634.9,572.5 634.9,567.4 628.0,557.5 627.6,557.4"/>
<polygon fill="#9a9a9a" stroke="#dedede" stroke-width="3.6" stroke-linejoin="round" points="675.8,559.0 668.8,552.2 645.5,565.8 645.5,575.2 651.1,582.5 673.0,580.0"/>
<polygon fill="#545454" points="669.1,563.6 665.3,559.9 652.5,567.4 652.5,572.5 655.6,576.5 667.6,575.2"/>
<polygon fill="#9f9f9f" stroke="#dedede" stroke-width="3.6" stroke-linejoin="round" points="651.1,582.5 645.5,575.2 614.3,584.1 612.8,586.0 629.8,611.0 650.4,595.5"/>
<polygon fill="#525252" points="641.2,587.6 638.1,583.5 620.9,588.5 620.1,589.5 629.5,603.3 640.7,594.7"/>
<polygon fill="#a3a3a3" stroke="#dedede" stroke-width="3.6" stroke-linejoin="round" points="673.0,580.0 651.1,582.5 650.4,595.5 666.5,611.5 688.0,590.0"/>
<polygon fill="#4e4e4e" points="669.0,587.1 656.9,588.5 656.5,595.6 665.4,604.4 677.2,592.6"/>
<polygon fill="#adadad" stroke="#dedede" stroke-width="3.6" stroke-linejoin="round" points="614.8,629.5 615.1,629.5 629.1,615.6 629.8,611.0 612.8,586.0 600.3,589.1 594.1,608.5"/>
<polygon fill="#4b4b4b" points="611.3,620.2 611.4,620.2 619.2,612.5 619.6,610.0 610.2,596.3 603.3,598.0 599.9,608.6"/>
<polygon fill="#a1a1a1" stroke="#dedede" stroke-width="3.6" stroke-linejoin="round" points="534.7,636.9 511.7,634.5 506.3,627.7 506.7,610.0 538.8,607.9 542.7,614.1"/>
<polygon fill="#4c4c4c" points="528.3,630.5 515.6,629.1 512.7,625.4 512.9,615.6 530.6,614.5 532.7,617.9"/>
<polygon fill="#a6a6a6" stroke="#dedede" stroke-width="3.6" stroke-linejoin="round" points="504.9,607.4 176.5,628.8 178.3,667.5 344.1,664.3 402.4,657.8 506.3,627.7 506.7,610.0"/>
<polygon fill="#4d4d4d" points="495.7,613.9 315.0,625.6 316.0,646.9 407.2,645.2 439.3,641.6 496.4,625.0 496.7,615.3"/>
<polygon fill="#a0a0a0" stroke="#dedede" stroke-width="3.6" stroke-linejoin="round" points="571.8,622.2 571.2,617.7 542.7,614.1 534.7,636.9 541.0,646.8 553.1,651.4"/>
<polygon fill="#575757" points="561.4,626.8 561.1,624.3 545.5,622.4 541.1,634.9 544.5,640.4 551.1,642.9"/>
<polygon fill="#a0a0a0" stroke="#dedede" stroke-width="3.6" stroke-linejoin="round" points="505.0,660.1 402.4,657.8 506.3,627.7 511.7,634.5"/>
<polygon fill="#535353" points="498.8,653.5 442.4,652.3 499.5,635.8 502.5,639.5"/>
<polygon fill="#ababab" stroke="#dedede" stroke-width="3.6" stroke-linejoin="round" points="541.0,646.8 518.3,671.6 515.3,671.0 505.0,660.1 511.7,634.5 534.7,636.9"/>
<polygon fill="#494949" points="530.4,649.3 517.9,663.0 516.2,662.6 510.6,656.6 514.2,642.6 526.9,643.9"/>
<polygon fill="#9a9a9a" stroke="#dedede" stroke-width="3.6" stroke-linejoin="round" points="557.2,657.2 553.1,651.4 571.8,622.2 590.8,644.2 580.0,661.4 574.4,663.0"/>
<polygon fill="#4c4c4c" points="562.1,651.6 559.8,648.4 570.1,632.4 580.5,644.4 574.6,653.9 571.5,654.8"/>
<polygon fill="#a9a9a9" stroke="#dedede" stroke-width="3.6" stroke-linejoin="round" points="544.4,682.8 526.7,680.5 518.3,671.6 541.0,646.8 553.1,651.4 557.2,657.2"/>
<polygon fill="#545454" points="540.2,676.4 530.4,675.1 525.8,670.2 538.3,656.6 544.9,659.1 547.2,662.3"/>
<polygon fill="#9e9e9e" stroke="#dedede" stroke-width="3.6" stroke-linejoin="round" points="515.3,671.0 505.0,660.1 402.4,657.8 344.1,664.3 497.6,690.3"/>
<polygon fill="#4e4e4e" points="504.2,674.0 498.5,668.0 442.1,666.8 410.0,670.3 494.4,684.6"/>
<polygon fill="#9d9d9d" stroke="#dedede" stroke-width="3.6" stroke-linejoin="round" points="544.4,682.8 557.2,657.2 574.4,663.0 569.5,691.9 551.1,691.6"/>
<polygon fill="#515151" points="549.8,681.2 556.9,667.2 566.4,670.3 563.6,686.2 553.5,686.0"/>
<polygon fill="#9a9a9a" stroke="#dedede" stroke-width="3.6" stroke-linejoin="round" points="518.3,671.6 526.7,680.5 516.2,728.1 497.6,690.3 515.3,671.0"/>
<polygon fill="#565656" points="513.8,681.6 518.4,686.5 512.6,712.6 502.3,691.9 512.1,681.2"/>
<polygon fill="#ababab" stroke="#dedede" stroke-width="3.6" stroke-linejoin="round" points="569.5,691.9 574.2,696.2 597.8,688.3 601.7,679.6 580.0,661.4 574.4,663.0"/>
<polygon fill="#5b5b5b" points="573.6,687.9 576.2,690.3 589.2,686.0 591.4,681.2 579.4,671.2 576.3,672.0"/>
<polygon fill="#a8a8a8" stroke="#dedede" stroke-width="3.6" stroke-linejoin="round" points="544.4,682.8 526.7,680.5 516.2,728.1 522.1,772.0 551.1,691.6"/>
<polygon fill="#5b5b5b" points="538.4,690.0 528.6,688.7 522.9,714.9 526.1,739.1 542.0,694.8"/>
<polygon fill="#999999" stroke="#dedede" stroke-width="3.6" stroke-linejoin="round" points="666.5,611.5 667.1,618.3 658.2,631.7 629.1,615.6 629.8,611.0 650.4,595.5"/>
<polygon fill="#4d4d4d" points="656.8,613.0 657.2,616.8 652.2,624.2 636.3,615.3 636.7,612.7 647.9,604.2"/>
<polygon fill="#adadad" stroke="#dedede" stroke-width="3.6" stroke-linejoin="round" points="571.8,622.2 571.2,617.7 571.2,617.5 594.1,608.5 614.8,629.5 604.3,641.2 590.8,644.2"/>
<polygon fill="#575757" points="579.2,624.5 578.9,621.9 578.9,621.9 591.5,616.9 602.9,628.5 597.1,634.9 589.7,636.5"/>
<polygon fill="#a1a1a1" stroke="#dedede" stroke-width="3.6" stroke-linejoin="round" points="649.2,650.8 658.2,635.6 658.2,631.7 629.1,615.6 615.1,629.5 642.1,654.2"/>
<polygon fill="#5b5b5b" points="642.1,644.0 647.1,635.6 647.1,633.5 631.1,624.6 623.4,632.2 638.2,645.8"/>
<polygon fill="#a6a6a6" stroke="#dedede" stroke-width="3.6" stroke-linejoin="round" points="658.2,635.6 713.1,660.9 847.2,658.3 667.1,618.3 658.2,631.7"/>
<polygon fill="#585858" points="665.7,635.2 695.9,649.1 769.7,647.7 670.6,625.7 665.7,633.1"/>
<polygon fill="#9f9f9f" stroke="#dedede" stroke-width="3.6" stroke-linejoin="round" points="604.3,641.2 618.1,673.3 634.8,666.9 642.1,654.2 615.1,629.5 614.8,629.5"/>
<polygon fill="#4b4b4b" points="610.2,646.6 617.8,664.2 627.0,660.7 631.0,653.7 616.1,640.1 616.0,640.2"/>
<polygon fill="#a2a2a2" stroke="#dedede" stroke-width="3.6" stroke-linejoin="round" points="590.8,644.2 604.3,641.2 618.1,673.3 618.0,673.4 601.7,679.6 580.0,661.4"/>
<polygon fill="#4a4a4a" points="593.1,652.4 600.6,650.7 608.2,668.4 608.1,668.5 599.1,671.9 587.2,661.9"/>
<polygon fill="#a1a1a1" stroke="#dedede" stroke-width="3.6" stroke-linejoin="round" points="649.2,650.8 658.2,635.6 713.1,660.9 674.2,671.7"/>
<polygon fill="#5b5b5b" points="656.6,652.6 661.6,644.2 691.8,658.1 670.4,664.1"/>
<polygon fill="#a0a0a0" stroke="#dedede" stroke-width="3.6" stroke-linejoin="round" points="634.8,666.9 642.1,654.2 649.2,650.8 674.2,671.7 665.5,682.8 650.7,685.5"/>
<polygon fill="#484848" points="642.1,669.4 646.1,662.4 650.0,660.5 663.8,672.0 659.0,678.1 650.8,679.6"/>
<polygon fill="#9a9a9a" stroke="#dedede" stroke-width="3.6" stroke-linejoin="round" points="618.0,673.4 634.8,722.6 650.7,685.5 634.8,666.9 618.1,673.3"/>
<polygon fill="#4b4b4b" points="624.0,680.5 633.2,707.5 641.9,687.2 633.2,676.9 624.0,680.4"/>
<polygon fill="#a9a9a9" stroke="#dedede" stroke-width="3.6" stroke-linejoin="round" points="618.0,673.4 601.7,679.6 597.8,688.3 630.9,783.6 634.8,722.6"/>
<polygon fill="#4f4f4f" points="614.0,683.9 605.0,687.3 602.8,692.1 621.1,744.5 623.2,711.0"/>
<polygon fill="#9f9f9f" stroke="#dedede" stroke-width="3.6" stroke-linejoin="round" points="665.5,682.8 790.0,993.9 890.2,968.3 936.1,949.1 955.0,904.8 982.0,802.7 992.2,700.6 989.9,665.4 847.2,658.3 713.1,660.9 674.2,671.7"/>
<polygon fill="#494949" points="670.2,686.9 738.7,857.9 793.8,843.9 819.0,833.3 829.5,809.0 844.3,752.8 849.9,696.6 848.6,677.3 770.2,673.3 696.4,674.8 675.0,680.7"/>
<polygon fill="#adadad" stroke="#dedede" stroke-width="3.6" stroke-linejoin="round" points="650.7,685.5 665.5,682.8 790.0,993.9 787.7,994.6 685.2,1007.3 646.8,1005.7 630.9,783.6 634.8,722.6"/>
<polygon fill="#505050" points="653.1,692.0 661.2,690.5 729.7,861.5 728.5,861.9 672.1,868.9 650.9,868.0 642.2,745.9 644.4,712.3"/>
<polygon fill="#9d9d9d" stroke="#dedede" stroke-width="3.6" stroke-linejoin="round" points="313.3,485.7 190.9,445.3 196.8,394.2 224.9,292.1 239.6,258.2 275.2,242.3 370.4,215.1 527.4,524.6 510.7,538.4"/>
<polygon fill="#494949" points="399.1,502.0 331.8,479.7 335.1,451.6 350.5,395.4 358.6,376.8 378.1,368.1 430.5,353.1 516.9,523.3 507.7,530.9"/>
<polygon fill="#9a9a9a" stroke="#dedede" stroke-width="3.6" stroke-linejoin="round" points="605.4,1008.6 646.8,1005.7 630.9,783.6 597.8,688.3 574.2,696.2"/>
<polygon fill="#4b4b4b" points="596.7,871.9 619.4,870.3 610.7,748.1 592.5,695.7 579.5,700.1"/>
<polygon fill="#a7a7a7" stroke="#dedede" stroke-width="3.6" stroke-linejoin="round" points="551.1,691.6 522.1,772.0 512.0,1008.1 582.7,1011.4 605.4,1008.6 574.2,696.2 569.5,691.9"/>
<polygon fill="#4a4a4a" points="553.3,698.9 537.4,743.1 531.8,872.9 570.7,874.8 583.2,873.3 566.0,701.4 563.4,699.1"/>
<polygon fill="#9a9a9a" stroke="#dedede" stroke-width="3.6" stroke-linejoin="round" points="497.6,690.3 344.1,664.3 178.3,667.5 175.5,700.6 183.4,802.7 208.1,904.8 226.9,951.5 275.2,972.5 377.7,1000.0 480.2,1010.2 512.0,1008.1 522.1,772.0 516.2,728.1"/>
<polygon fill="#515151" points="492.4,696.8 408.0,682.5 316.8,684.3 315.2,702.5 319.6,758.6 333.1,814.8 343.5,840.5 370.0,852.0 426.4,867.1 482.8,872.8 500.3,871.6 505.9,741.8 502.6,717.6"/>
<polygon fill="#9e9e9e" stroke="#dedede" stroke-width="3.6" stroke-linejoin="round" points="688.0,590.0 666.5,611.5 667.1,618.3 847.2,658.3 989.9,665.4 994.2,598.5 993.3,590.0"/>
<polygon fill="#5c5c5c" points="684.4,599.8 672.6,611.6 672.9,615.4 772.0,637.3 850.4,641.3 852.8,604.4 852.3,599.8"/>
<polygon fill="#9b9b9b" stroke="#dedede" stroke-width="3.6" stroke-linejoin="round" points="675.8,559.0 992.2,559.0 993.3,590.0 688.0,590.0 673.0,580.0"/>
<polygon fill="#525252" points="677.7,564.8 851.7,564.8 852.3,581.8 684.4,581.8 676.2,576.3"/>
<polygon fill="#a9a9a9" stroke="#dedede" stroke-width="3.6" stroke-linejoin="round" points="675.8,559.0 668.8,552.2 668.8,542.3 979.4,419.9 992.1,496.3 992.2,559.0"/>
<polygon fill="#505050" points="677.7,554.8 673.8,551.1 673.8,545.6 844.6,478.3 851.7,520.4 851.7,554.8"/>
<polygon fill="#adadad" stroke="#dedede" stroke-width="3.6" stroke-linejoin="round" points="586.5,511.8 582.5,513.7 570.8,509.7 512.9,284.0 494.7,195.1 582.7,188.1 644.3,193.6 612.6,424.8"/>
<polygon fill="#515151" points="581.8,505.9 579.6,507.0 573.1,504.8 541.3,380.6 531.3,331.8 579.7,327.9 613.5,330.9 596.1,458.1"/>
<circle cx="547.6" cy="515.8" r="2.5" fill="#ffffff"/>
<circle cx="527.4" cy="524.6" r="2.5" fill="#ffffff"/>
<circle cx="528.9" cy="524.8" r="3.2" fill="#ffffff"/>
<circle cx="570.8" cy="509.7" r="1.9" fill="#ffffff"/>
<circle cx="563.6" cy="546.3" r="2.2" fill="#ffffff"/>
<circle cx="546.8" cy="551.2" r="2.2" fill="#ffffff"/>
<circle cx="581.6" cy="541.7" r="1.9" fill="#ffffff"/>
<circle cx="510.7" cy="538.4" r="3.2" fill="#ffffff"/>
<circle cx="545.4" cy="584.4" r="2.0" fill="#ffffff"/>
<circle cx="596.0" cy="547.5" r="3.2" fill="#ffffff"/>
<circle cx="540.8" cy="589.1" r="2.8" fill="#ffffff"/>
<circle cx="594.1" cy="608.5" r="3.3" fill="#ffffff"/>
<circle cx="598.5" cy="547.0" r="3.3" fill="#ffffff"/>
<circle cx="612.2" cy="516.7" r="3.2" fill="#ffffff"/>
<circle cx="624.9" cy="520.1" r="3.3" fill="#ffffff"/>
<circle cx="613.3" cy="553.4" r="2.1" fill="#ffffff"/>
<circle cx="668.8" cy="542.3" r="1.8" fill="#ffffff"/>
<circle cx="645.5" cy="565.8" r="3.2" fill="#ffffff"/>
<circle cx="612.8" cy="586.0" r="3.1" fill="#ffffff"/>
<circle cx="673.0" cy="580.0" r="2.9" fill="#ffffff"/>
<circle cx="629.8" cy="611.0" r="3.2" fill="#ffffff"/>
<circle cx="666.5" cy="611.5" r="2.6" fill="#ffffff"/>
<circle cx="614.8" cy="629.5" r="1.9" fill="#ffffff"/>
<circle cx="629.1" cy="615.6" r="3.2" fill="#ffffff"/>
<circle cx="511.7" cy="634.5" r="2.4" fill="#ffffff"/>
<circle cx="541.0" cy="646.8" r="3.1" fill="#ffffff"/>
<circle cx="505.0" cy="660.1" r="2.7" fill="#ffffff"/>
<circle cx="518.3" cy="671.6" r="3.0" fill="#ffffff"/>
<circle cx="515.3" cy="671.0" r="2.2" fill="#ffffff"/>
<circle cx="557.2" cy="657.2" r="3.3" fill="#ffffff"/>
<circle cx="590.8" cy="644.2" r="2.0" fill="#ffffff"/>
<circle cx="526.7" cy="680.5" r="3.2" fill="#ffffff"/>
<circle cx="569.5" cy="691.9" r="3.2" fill="#ffffff"/>
<circle cx="551.1" cy="691.6" r="2.3" fill="#ffffff"/>
<circle cx="597.8" cy="688.3" r="3.1" fill="#ffffff"/>
<circle cx="601.7" cy="679.6" r="3.2" fill="#ffffff"/>
<circle cx="667.1" cy="618.3" r="2.1" fill="#ffffff"/>
<circle cx="658.2" cy="631.7" r="2.3" fill="#ffffff"/>
<circle cx="642.1" cy="654.2" r="2.3" fill="#ffffff"/>
<circle cx="634.8" cy="666.9" r="2.9" fill="#ffffff"/>
<circle cx="674.2" cy="671.7" r="1.9" fill="#ffffff"/>
<circle cx="665.5" cy="682.8" r="3.1" fill="#ffffff"/>
<circle cx="650.7" cy="685.5" r="3.0" fill="#ffffff"/>

</g>
<g fill="none" stroke="#9e9e9e" stroke-width="0.9" stroke-opacity="0.55">
<circle cx="535.2" cy="506.2" r="3.3"/>
<circle cx="556.6" cy="503.0" r="3.3"/>
<circle cx="547.4" cy="531.5" r="3.3"/>
<circle cx="570.4" cy="525.4" r="3.3"/>
<circle cx="528.3" cy="544.5" r="3.3"/>
<circle cx="499.2" cy="553.0" r="3.3"/>
<circle cx="556.6" cy="568.3" r="3.3"/>
<circle cx="579.6" cy="561.4" r="3.3"/>
<circle cx="529.0" cy="573.6" r="3.3"/>
<circle cx="490.0" cy="574.4" r="3.3"/>
<circle cx="523.0" cy="597.0" r="3.3"/>
<circle cx="556.6" cy="600.5" r="3.3"/>
<circle cx="486.9" cy="597.0" r="3.3"/>
<circle cx="581.2" cy="597.4" r="3.3"/>
<circle cx="593.8" cy="526.1" r="3.3"/>
<circle cx="616.0" cy="534.6" r="3.3"/>
<circle cx="639.8" cy="528.4" r="3.3"/>
<circle cx="624.5" cy="503.1" r="3.3"/>
<circle cx="600.0" cy="503.0" r="3.3"/>
<circle cx="662.8" cy="509.0" r="3.3"/>
<circle cx="676.0" cy="527.7" r="3.3"/>
<circle cx="653.6" cy="548.0" r="3.3"/>
<circle cx="601.5" cy="568.3" r="3.3"/>
<circle cx="626.0" cy="567.5" r="3.3"/>
<circle cx="665.0" cy="567.5" r="3.3"/>
<circle cx="633.0" cy="592.0" r="3.3"/>
<circle cx="668.0" cy="594.0" r="3.3"/>
<circle cx="611.0" cy="607.0" r="3.3"/>
<circle cx="524.5" cy="620.8" r="3.3"/>
<circle cx="488.4" cy="620.0" r="3.3"/>
<circle cx="552.8" cy="630.7" r="3.3"/>
<circle cx="495.3" cy="643.8" r="3.3"/>
<circle cx="521.4" cy="650.6" r="3.3"/>
<circle cx="572.0" cy="643.0" r="3.3"/>
<circle cx="539.0" cy="666.7" r="3.3"/>
<circle cx="494.6" cy="675.9" r="3.3"/>
<circle cx="560.5" cy="677.5" r="3.3"/>
<circle cx="512.2" cy="692.0" r="3.3"/>
<circle cx="582.7" cy="681.3" r="3.3"/>
<circle cx="535.0" cy="697.0" r="3.3"/>
<circle cx="649.0" cy="613.1" r="3.3"/>
<circle cx="592.3" cy="625.4" r="3.3"/>
<circle cx="637.5" cy="633.8" r="3.3"/>
<circle cx="678.9" cy="633.0" r="3.3"/>
<circle cx="621.4" cy="651.4" r="3.3"/>
<circle cx="600.0" cy="660.6" r="3.3"/>
<circle cx="669.7" cy="653.0" r="3.3"/>
<circle cx="655.0" cy="670.6" r="3.3"/>
<circle cx="635.2" cy="687.4" r="3.3"/>
<circle cx="613.0" cy="695.0" r="3.3"/>
<circle cx="680.0" cy="690.0" r="3.3"/>
<circle cx="660.0" cy="698.0" r="3.3"/>
<circle cx="508.0" cy="520.0" r="3.3"/>
<circle cx="590.0" cy="703.0" r="3.3"/>
<circle cx="560.0" cy="706.0" r="3.3"/>
<circle cx="490.0" cy="703.0" r="3.3"/>
<circle cx="684.0" cy="610.0" r="3.3"/>
<circle cx="684.0" cy="570.0" r="3.3"/>
<circle cx="684.0" cy="548.0" r="3.3"/>
<circle cx="580.0" cy="497.0" r="3.3"/>
</g>
<g fill="#b8b8b8" fill-opacity="0.7">
<circle cx="535.5" cy="505.9" r="1.25"/>
<circle cx="556.9" cy="502.7" r="1.25"/>
<circle cx="547.7" cy="531.2" r="1.25"/>
<circle cx="570.7" cy="525.1" r="1.25"/>
<circle cx="528.6" cy="544.2" r="1.25"/>
<circle cx="499.5" cy="552.7" r="1.25"/>
<circle cx="556.9" cy="568.0" r="1.25"/>
<circle cx="579.9" cy="561.1" r="1.25"/>
<circle cx="529.3" cy="573.3" r="1.25"/>
<circle cx="490.3" cy="574.1" r="1.25"/>
<circle cx="523.3" cy="596.7" r="1.25"/>
<circle cx="556.9" cy="600.2" r="1.25"/>
<circle cx="487.2" cy="596.7" r="1.25"/>
<circle cx="581.5" cy="597.1" r="1.25"/>
<circle cx="594.1" cy="525.8" r="1.25"/>
<circle cx="616.3" cy="534.3" r="1.25"/>
<circle cx="640.1" cy="528.1" r="1.25"/>
<circle cx="624.8" cy="502.8" r="1.25"/>
<circle cx="600.3" cy="502.7" r="1.25"/>
<circle cx="663.1" cy="508.7" r="1.25"/>
<circle cx="676.3" cy="527.4" r="1.25"/>
<circle cx="653.9" cy="547.7" r="1.25"/>
<circle cx="601.8" cy="568.0" r="1.25"/>
<circle cx="626.3" cy="567.2" r="1.25"/>
<circle cx="665.3" cy="567.2" r="1.25"/>
<circle cx="633.3" cy="591.7" r="1.25"/>
<circle cx="668.3" cy="593.7" r="1.25"/>
<circle cx="611.3" cy="606.7" r="1.25"/>
<circle cx="524.8" cy="620.5" r="1.25"/>
<circle cx="488.7" cy="619.7" r="1.25"/>
<circle cx="553.1" cy="630.4" r="1.25"/>
<circle cx="495.6" cy="643.5" r="1.25"/>
<circle cx="521.7" cy="650.3" r="1.25"/>
<circle cx="572.3" cy="642.7" r="1.25"/>
<circle cx="539.3" cy="666.4" r="1.25"/>
<circle cx="494.9" cy="675.6" r="1.25"/>
<circle cx="560.8" cy="677.2" r="1.25"/>
<circle cx="512.5" cy="691.7" r="1.25"/>
<circle cx="583.0" cy="681.0" r="1.25"/>
<circle cx="535.3" cy="696.7" r="1.25"/>
<circle cx="649.3" cy="612.8" r="1.25"/>
<circle cx="592.6" cy="625.1" r="1.25"/>
<circle cx="637.8" cy="633.5" r="1.25"/>
<circle cx="679.2" cy="632.7" r="1.25"/>
<circle cx="621.7" cy="651.1" r="1.25"/>
<circle cx="600.3" cy="660.3" r="1.25"/>
<circle cx="670.0" cy="652.7" r="1.25"/>
<circle cx="655.3" cy="670.3" r="1.25"/>
<circle cx="635.5" cy="687.1" r="1.25"/>
<circle cx="613.3" cy="694.7" r="1.25"/>
<circle cx="680.3" cy="689.7" r="1.25"/>
<circle cx="660.3" cy="697.7" r="1.25"/>
<circle cx="508.3" cy="519.7" r="1.25"/>
<circle cx="590.3" cy="702.7" r="1.25"/>
<circle cx="560.3" cy="705.7" r="1.25"/>
<circle cx="490.3" cy="702.7" r="1.25"/>
<circle cx="684.3" cy="609.7" r="1.25"/>
<circle cx="684.3" cy="569.7" r="1.25"/>
<circle cx="684.3" cy="547.7" r="1.25"/>
<circle cx="580.3" cy="496.7" r="1.25"/>
</g>
</g></g>
<rect x="482.1" y="496.3" width="31.60" height="46.40" fill="#fff"/>
<rect x="603.8" y="673.9" width="59.20" height="5.2" fill="#000"/>
<text class="lab" transform="translate(487.70,531.2) scale(1.0,1)">d</text>
<rect x="483.1" y="708.7" width="199.20" height="10.2" fill="url(#vir)" stroke="#222" stroke-width="0.9"/>
<text class="il" x="484.30" y="777.9">intensity (photons)</text>
</g>
<text class="cb" x="1.9" y="746.6">10<tspan class="sup" dx="-0.5" dy="-9">3</tspan></text>
<text class="cb" x="70.8" y="746.6">10<tspan class="sup" dx="-0.5" dy="-9">4</tspan></text>
<text class="cb" x="144.7" y="746.6">10<tspan class="sup" dx="-0.5" dy="-9">5</tspan></text>
<text class="cb" x="327.3" y="746.6">5×10<tspan class="sup" dx="-0.5" dy="-9">4</tspan></text>
<text class="cb" x="414.2" y="746.6">10<tspan class="sup" dx="-0.5" dy="-9">5</tspan></text>
<text class="cb" x="537.4" y="746.6">10<tspan class="sup" dx="-0.5" dy="-9">4</tspan></text>
<text class="cb" x="620.4" y="746.6">5×10<tspan class="sup" dx="-0.5" dy="-9">4</tspan></text>
<line x1="6.01" y1="718.9" x2="6.01" y2="721.3" stroke="#222" stroke-width="0.9"/><line x1="9.30" y1="718.9" x2="9.30" y2="724.1" stroke="#222" stroke-width="1.5"/><line x1="30.97" y1="718.9" x2="30.97" y2="721.3" stroke="#222" stroke-width="0.9"/><line x1="43.65" y1="718.9" x2="43.65" y2="721.3" stroke="#222" stroke-width="0.9"/><line x1="52.65" y1="718.9" x2="52.65" y2="721.3" stroke="#222" stroke-width="0.9"/><line x1="59.63" y1="718.9" x2="59.63" y2="721.3" stroke="#222" stroke-width="0.9"/><line x1="65.33" y1="718.9" x2="65.33" y2="721.3" stroke="#222" stroke-width="0.9"/><line x1="70.15" y1="718.9" x2="70.15" y2="721.3" stroke="#222" stroke-width="0.9"/><line x1="74.32" y1="718.9" x2="74.32" y2="721.3" stroke="#222" stroke-width="0.9"/><line x1="78.01" y1="718.9" x2="78.01" y2="721.3" stroke="#222" stroke-width="0.9"/><line x1="81.30" y1="718.9" x2="81.30" y2="724.1" stroke="#222" stroke-width="1.5"/><line x1="102.97" y1="718.9" x2="102.97" y2="721.3" stroke="#222" stroke-width="0.9"/><line x1="115.65" y1="718.9" x2="115.65" y2="721.3" stroke="#222" stroke-width="0.9"/><line x1="124.65" y1="718.9" x2="124.65" y2="721.3" stroke="#222" stroke-width="0.9"/><line x1="131.63" y1="718.9" x2="131.63" y2="721.3" stroke="#222" stroke-width="0.9"/><line x1="137.33" y1="718.9" x2="137.33" y2="721.3" stroke="#222" stroke-width="0.9"/><line x1="142.15" y1="718.9" x2="142.15" y2="721.3" stroke="#222" stroke-width="0.9"/><line x1="146.32" y1="718.9" x2="146.32" y2="721.3" stroke="#222" stroke-width="0.9"/><line x1="150.01" y1="718.9" x2="150.01" y2="721.3" stroke="#222" stroke-width="0.9"/><line x1="153.30" y1="718.9" x2="153.30" y2="724.1" stroke="#222" stroke-width="1.5"/><line x1="174.97" y1="718.9" x2="174.97" y2="721.3" stroke="#222" stroke-width="0.9"/><line x1="187.65" y1="718.9" x2="187.65" y2="721.3" stroke="#222" stroke-width="0.9"/><line x1="196.65" y1="718.9" x2="196.65" y2="721.3" stroke="#222" stroke-width="0.9"/>
<line x1="294.62" y1="718.9" x2="294.62" y2="721.3" stroke="#222" stroke-width="0.9"/><line x1="328.50" y1="718.9" x2="328.50" y2="721.3" stroke="#222" stroke-width="0.9"/><line x1="352.54" y1="718.9" x2="352.54" y2="721.3" stroke="#222" stroke-width="0.9"/><line x1="371.18" y1="718.9" x2="371.18" y2="724.1" stroke="#222" stroke-width="1.5"/><line x1="386.42" y1="718.9" x2="386.42" y2="721.3" stroke="#222" stroke-width="0.9"/><line x1="399.30" y1="718.9" x2="399.30" y2="721.3" stroke="#222" stroke-width="0.9"/><line x1="410.45" y1="718.9" x2="410.45" y2="721.3" stroke="#222" stroke-width="0.9"/><line x1="420.30" y1="718.9" x2="420.30" y2="721.3" stroke="#222" stroke-width="0.9"/><line x1="429.10" y1="718.9" x2="429.10" y2="724.1" stroke="#222" stroke-width="1.5"/>
<line x1="487.18" y1="718.9" x2="487.18" y2="721.3" stroke="#222" stroke-width="0.9"/><line x1="503.67" y1="718.9" x2="503.67" y2="721.3" stroke="#222" stroke-width="0.9"/><line x1="516.46" y1="718.9" x2="516.46" y2="721.3" stroke="#222" stroke-width="0.9"/><line x1="526.92" y1="718.9" x2="526.92" y2="721.3" stroke="#222" stroke-width="0.9"/><line x1="535.75" y1="718.9" x2="535.75" y2="721.3" stroke="#222" stroke-width="0.9"/><line x1="543.41" y1="718.9" x2="543.41" y2="721.3" stroke="#222" stroke-width="0.9"/><line x1="550.16" y1="718.9" x2="550.16" y2="721.3" stroke="#222" stroke-width="0.9"/><line x1="556.20" y1="718.9" x2="556.20" y2="724.1" stroke="#222" stroke-width="1.5"/><line x1="595.94" y1="718.9" x2="595.94" y2="721.3" stroke="#222" stroke-width="0.9"/><line x1="619.18" y1="718.9" x2="619.18" y2="721.3" stroke="#222" stroke-width="0.9"/><line x1="635.67" y1="718.9" x2="635.67" y2="721.3" stroke="#222" stroke-width="0.9"/><line x1="648.46" y1="718.9" x2="648.46" y2="724.1" stroke="#222" stroke-width="1.5"/><line x1="658.92" y1="718.9" x2="658.92" y2="721.3" stroke="#222" stroke-width="0.9"/><line x1="667.75" y1="718.9" x2="667.75" y2="721.3" stroke="#222" stroke-width="0.9"/><line x1="675.41" y1="718.9" x2="675.41" y2="721.3" stroke="#222" stroke-width="0.9"/>
</svg></body></html>
